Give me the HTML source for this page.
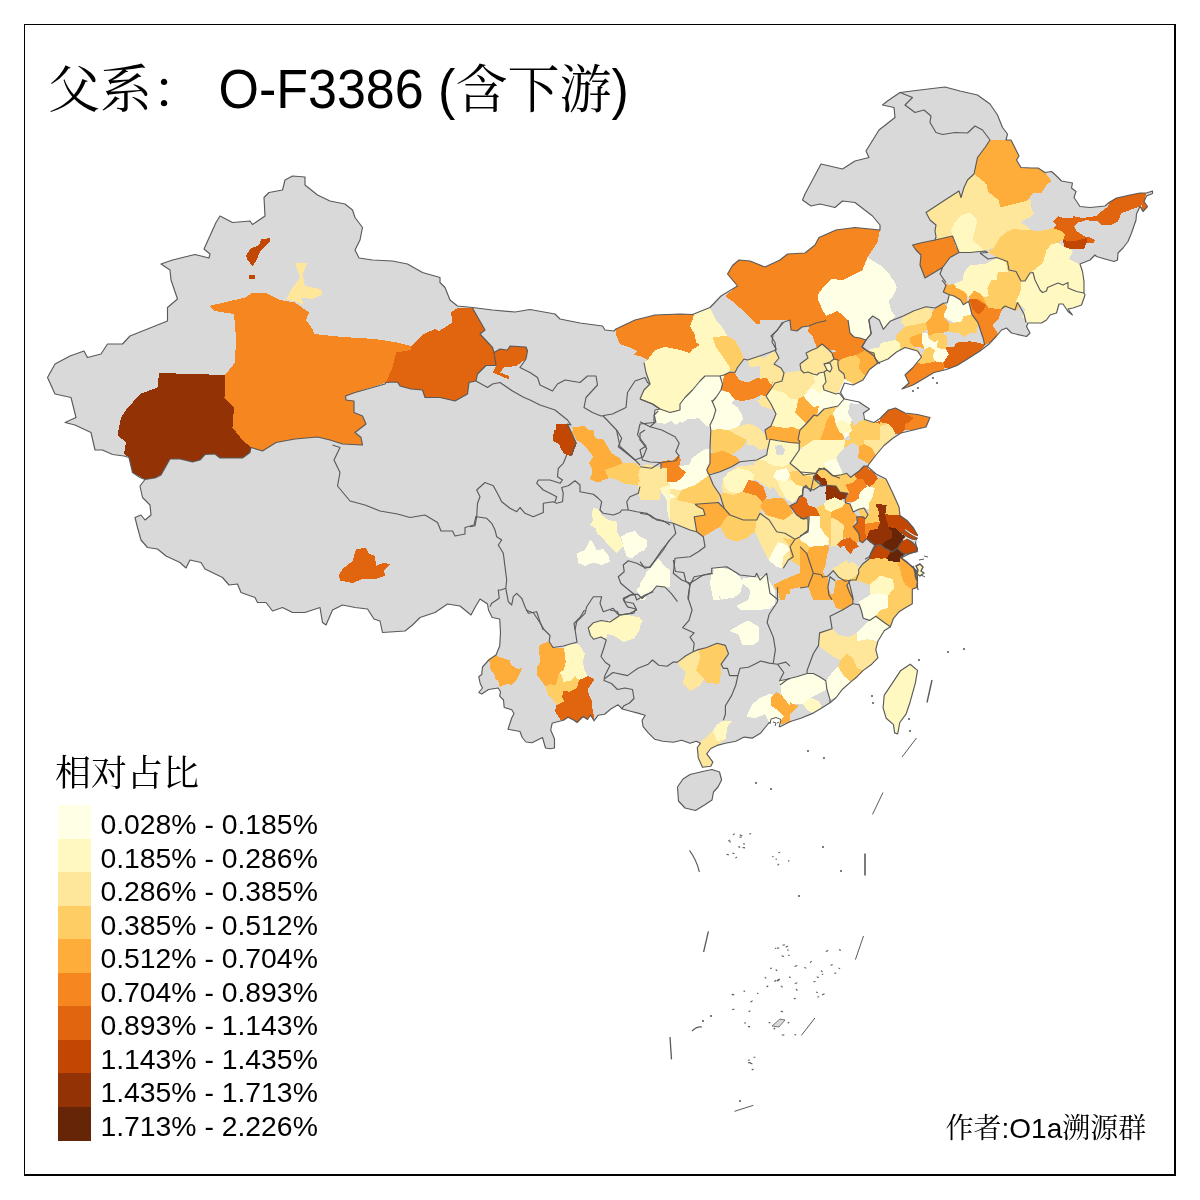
<!DOCTYPE html><html lang="zh"><head><meta charset="utf-8"><title>父系 O-F3386</title><style>
html,body{margin:0;padding:0;background:#fff}
#wrap{position:relative;width:1200px;height:1200px;overflow:hidden;background:#fff;font-family:"Liberation Sans","Noto Serif CJK SC",serif;color:#000}
#frame{position:absolute;left:24px;top:24px;width:1152px;height:1152px;border:solid #000;border-width:1px 2px 2px 1px;box-sizing:border-box}
.t{position:absolute;white-space:nowrap;line-height:1}
.cj{font-family:"Liberation Serif","Noto Serif CJK SC",serif;font-weight:400}
#title{left:48px;top:64px;font-size:52px}.la{display:inline-block;transform:scaleY(1.05);transform-origin:0 80%}
#lt{left:55px;top:756px;font-size:36px}
.sw{position:absolute;left:58px;width:33px;height:33.7px}
.lb{left:100.4px;font-size:28.35px}
#au{left:945.5px;top:1115px;font-size:28px}
</style></head><body><div id="wrap">
<svg width="1200" height="1200" viewBox="0 0 1200 1200" style="position:absolute;left:0;top:0">
<g stroke-linejoin="round">
<polygon points="95,450 91,432.5 75,425 65,422.5 76,417.5 71,397.5 55,394 47.5,377.5 55,364 70,356 84,351 87.5,357.5 101,354 107.5,344 122.5,344 130,336 155,326 167.5,321 167.5,307.5 177.5,299 171,280 170,270 161,264 172.5,260 195,254.5 209,258 210,254 204,249 216,222.5 220,216 232.5,222.5 250,221 252.5,224.5 265,216 264,197.5 269,192.5 282.5,190 285,180 292.5,176 305,177 305,185 317.5,195 330,201 345,204 352.5,210 355,217.5 362.5,227.5 360,240 355,250 359,258 372.5,260 392.5,261 407.5,264 422.5,272.5 440,277.5 440,282.5 445,287.5 450,300 457.5,306 472.5,307.5 492.5,310 515,312 530,309.5 555,314 560,319 580,323 602.5,326 605,330 614,331 616,329 635,320 655,315 680,314 692.5,314.5 710,307.5 721,296 737.5,286 727.5,274 732.5,265.5 739,260 750,261 765,267 780,260 787.5,254 805,253 815,245 819,237.5 836,230 855,227.5 880,230 880,225 872.5,216 855,202.5 842.5,201 835,207.5 820,204 811,206 802.5,200 805,194 821,164 842.5,169 855,161 869,157.5 866,151 879,130 895,117.5 894,107.5 882.5,105 887.5,101 900,92.5 920,90 945,87 960,91 977.5,95 990,104 997.5,115 1002.5,127.5 1007.5,134 1006,140 1011,140 1015,148 1019,156 1016.5,160 1021,167.5 1031.5,168 1038,168 1045,172.5 1051.5,171.5 1056.5,176 1061.5,181 1072.5,183 1071.5,188 1076,191.5 1074,197.5 1080,206.5 1090,207.5 1105,206 1109,202.5 1116.5,198 1130,195 1140,193 1146.5,193 1152.5,191 1152.5,193.5 1146.5,196 1144,201.5 1147.5,206.5 1143,211.5 1140,206.5 1136.5,214 1136,220 1131.5,233 1128,241.5 1123,248 1118,253 1117.5,260 1114,261.5 1105,259 1096.5,256.5 1095,255 1090,260 1080,264 1082.5,271.5 1084,281.5 1084,293 1085,295 1081.5,305 1073,308 1068,309 1072.5,315 1068,311.5 1063,304 1059,304 1056.5,313 1050,315 1046.5,320 1041.5,323 1028,323 1026.5,326.5 1030,333 1026.5,336.5 1011.5,333 1006.5,328 1001.5,330 996.5,336 988.5,344.5 980,351 967.5,359 957,365.5 946.5,369.5 934,372.5 921.5,380 913,385 902,389 909,383 905,375 913,367.5 921.5,357 917.5,351 905,347.5 896.5,352 888,359 878,363 869.5,369.5 863,380 853,385 844.5,383 840.5,392.5 844.5,399 859,402 869.5,409 863.5,413 864.5,419.5 874,422.5 880,418.5 888.5,410 895.5,408 905,413 917.5,414.5 930,417.5 926,427 913.5,430 901,433 892.5,438.5 884,445.5 876,455 869.5,463.5 867.5,466.5 876,474 886,479 892.5,492.5 899,507 900,515.5 907,520.5 913.5,528 917.5,535 915.5,542.5 917.5,551 909,554 901,558 905,561 913.5,567.5 917.5,574 916.5,580 913.3,566.2 917.5,576.7 917.5,587.1 912.3,589.2 912.3,603.8 905,607.9 898.8,612.1 893.5,618.3 890.4,626.7 884.2,630.8 877.9,641.2 875.8,649.6 877.9,657.9 871.7,664.2 863.3,670.4 857.1,676.7 850.8,681.9 842.5,689.2 836.2,697.5 830,702.7 821.7,707.9 813.3,713.1 800.8,718.3 790.4,721.5 780,726.7 779.6,726.7 769.2,722.5 760.8,732.9 752.5,738.1 744.2,737.1 735.8,741.2 725.4,743.3 717.1,745.4 710.8,748.5 706.7,753.8 712.9,762.1 710.8,766.2 702.5,767.3 698.3,757.9 697.3,747.5 700.4,743.3 696.2,741.2 690,743.3 681.7,740.2 673.3,742.3 662.9,741.2 654.6,739.2 648.3,732.9 643.1,726.7 642.1,720.4 645.2,715.2 637.9,713.1 629.6,711 622.3,709 618.1,704.8 610.8,709 604.6,714.2 598.3,715.2 594.2,720.4 594.2,721 590.5,715 587.5,719.5 583,716.5 577,722.5 574,720.2 568,717.2 563.5,720.2 557.5,721.7 552.2,723.2 550.7,730 554.5,739 554.5,748 550,748.7 545.5,748 542.5,737.5 539.5,739 532,742.7 526,742 522.2,737.5 520,731.5 508,729.2 511.7,718 514,713.5 511.7,709.7 504.2,707.5 503.5,700 499.7,696.2 500.5,691.7 498.2,688 488.5,689.5 481.7,694 478.7,692.5 482.5,688 480.2,683.5 478.7,676.7 481.7,674.5 482.5,667 489.2,659.5 496,655 499.7,646 500.5,632.5 499.7,619 492.2,617.5 488.5,610 487.5,604 480,599 475,607.5 471,615 460,606 447.5,604 435,612.5 420,617.5 412.5,625 405,631 382.5,632.5 380,621 374,619 367.5,609 355,607.5 342.5,605 332.5,610 326,625 322.5,622.5 320,607.5 305,612.5 292.5,612.5 282.5,607.5 272.5,611 266,602.5 257.5,602.5 255,597.5 241,592.5 237.5,584 229,585 222.5,577.5 205,569 201,562.5 190,560 186,568 180,562.5 166,556 157.5,549 147.5,547.5 141,540 137.5,527.5 135,517.5 141,515 145,520 151,515 150,505 142.5,497.5 140,486 145,479.5 140,477.5 132.5,472.5 129,457.5 124,456 112.5,454.5 102.5,450" fill="#D9D9D9" stroke="none"/>
<polygon points="677.5,787 683,779 690,774.5 702.5,771.5 712,769.5 719.5,772 721.6,780 718,787 713.5,792 712,800 704.5,805 695.5,810.5 685,808 678.5,801" fill="#D9D9D9" stroke="#5a5a5a" stroke-width="1.15"/>
<defs><clipPath id="cn"><polygon points="95,450 91,432.5 75,425 65,422.5 76,417.5 71,397.5 55,394 47.5,377.5 55,364 70,356 84,351 87.5,357.5 101,354 107.5,344 122.5,344 130,336 155,326 167.5,321 167.5,307.5 177.5,299 171,280 170,270 161,264 172.5,260 195,254.5 209,258 210,254 204,249 216,222.5 220,216 232.5,222.5 250,221 252.5,224.5 265,216 264,197.5 269,192.5 282.5,190 285,180 292.5,176 305,177 305,185 317.5,195 330,201 345,204 352.5,210 355,217.5 362.5,227.5 360,240 355,250 359,258 372.5,260 392.5,261 407.5,264 422.5,272.5 440,277.5 440,282.5 445,287.5 450,300 457.5,306 472.5,307.5 492.5,310 515,312 530,309.5 555,314 560,319 580,323 602.5,326 605,330 614,331 616,329 635,320 655,315 680,314 692.5,314.5 710,307.5 721,296 737.5,286 727.5,274 732.5,265.5 739,260 750,261 765,267 780,260 787.5,254 805,253 815,245 819,237.5 836,230 855,227.5 880,230 880,225 872.5,216 855,202.5 842.5,201 835,207.5 820,204 811,206 802.5,200 805,194 821,164 842.5,169 855,161 869,157.5 866,151 879,130 895,117.5 894,107.5 882.5,105 887.5,101 900,92.5 920,90 945,87 960,91 977.5,95 990,104 997.5,115 1002.5,127.5 1007.5,134 1006,140 1011,140 1015,148 1019,156 1016.5,160 1021,167.5 1031.5,168 1038,168 1045,172.5 1051.5,171.5 1056.5,176 1061.5,181 1072.5,183 1071.5,188 1076,191.5 1074,197.5 1080,206.5 1090,207.5 1105,206 1109,202.5 1116.5,198 1130,195 1140,193 1146.5,193 1152.5,191 1152.5,193.5 1146.5,196 1144,201.5 1147.5,206.5 1143,211.5 1140,206.5 1136.5,214 1136,220 1131.5,233 1128,241.5 1123,248 1118,253 1117.5,260 1114,261.5 1105,259 1096.5,256.5 1095,255 1090,260 1080,264 1082.5,271.5 1084,281.5 1084,293 1085,295 1081.5,305 1073,308 1068,309 1072.5,315 1068,311.5 1063,304 1059,304 1056.5,313 1050,315 1046.5,320 1041.5,323 1028,323 1026.5,326.5 1030,333 1026.5,336.5 1011.5,333 1006.5,328 1001.5,330 996.5,336 988.5,344.5 980,351 967.5,359 957,365.5 946.5,369.5 934,372.5 921.5,380 913,385 902,389 909,383 905,375 913,367.5 921.5,357 917.5,351 905,347.5 896.5,352 888,359 878,363 869.5,369.5 863,380 853,385 844.5,383 840.5,392.5 844.5,399 859,402 869.5,409 863.5,413 864.5,419.5 874,422.5 880,418.5 888.5,410 895.5,408 905,413 917.5,414.5 930,417.5 926,427 913.5,430 901,433 892.5,438.5 884,445.5 876,455 869.5,463.5 867.5,466.5 876,474 886,479 892.5,492.5 899,507 900,515.5 907,520.5 913.5,528 917.5,535 915.5,542.5 917.5,551 909,554 901,558 905,561 913.5,567.5 917.5,574 916.5,580 913.3,566.2 917.5,576.7 917.5,587.1 912.3,589.2 912.3,603.8 905,607.9 898.8,612.1 893.5,618.3 890.4,626.7 884.2,630.8 877.9,641.2 875.8,649.6 877.9,657.9 871.7,664.2 863.3,670.4 857.1,676.7 850.8,681.9 842.5,689.2 836.2,697.5 830,702.7 821.7,707.9 813.3,713.1 800.8,718.3 790.4,721.5 780,726.7 779.6,726.7 769.2,722.5 760.8,732.9 752.5,738.1 744.2,737.1 735.8,741.2 725.4,743.3 717.1,745.4 710.8,748.5 706.7,753.8 712.9,762.1 710.8,766.2 702.5,767.3 698.3,757.9 697.3,747.5 700.4,743.3 696.2,741.2 690,743.3 681.7,740.2 673.3,742.3 662.9,741.2 654.6,739.2 648.3,732.9 643.1,726.7 642.1,720.4 645.2,715.2 637.9,713.1 629.6,711 622.3,709 618.1,704.8 610.8,709 604.6,714.2 598.3,715.2 594.2,720.4 594.2,721 590.5,715 587.5,719.5 583,716.5 577,722.5 574,720.2 568,717.2 563.5,720.2 557.5,721.7 552.2,723.2 550.7,730 554.5,739 554.5,748 550,748.7 545.5,748 542.5,737.5 539.5,739 532,742.7 526,742 522.2,737.5 520,731.5 508,729.2 511.7,718 514,713.5 511.7,709.7 504.2,707.5 503.5,700 499.7,696.2 500.5,691.7 498.2,688 488.5,689.5 481.7,694 478.7,692.5 482.5,688 480.2,683.5 478.7,676.7 481.7,674.5 482.5,667 489.2,659.5 496,655 499.7,646 500.5,632.5 499.7,619 492.2,617.5 488.5,610 487.5,604 480,599 475,607.5 471,615 460,606 447.5,604 435,612.5 420,617.5 412.5,625 405,631 382.5,632.5 380,621 374,619 367.5,609 355,607.5 342.5,605 332.5,610 326,625 322.5,622.5 320,607.5 305,612.5 292.5,612.5 282.5,607.5 272.5,611 266,602.5 257.5,602.5 255,597.5 241,592.5 237.5,584 229,585 222.5,577.5 205,569 201,562.5 190,560 186,568 180,562.5 166,556 157.5,549 147.5,547.5 141,540 137.5,527.5 135,517.5 141,515 145,520 151,515 150,505 142.5,497.5 140,486 145,479.5 140,477.5 132.5,472.5 129,457.5 124,456 112.5,454.5 102.5,450"/><polygon points="910.2,664.2 917.5,670.4 915.4,682.9 910.2,701.7 906,714.2 899.8,722.5 897.7,734 894.6,732.9 893.5,724.6 886.2,718.3 883.1,707.9 884.2,695.4 892.5,682.9 900.8,670.4"/></clipPath></defs>
<g stroke="none" shape-rendering="crispEdges" clip-path="url(#cn)">
<polygon points="159,373 225,375 224.5,397.5 234,407.5 232.5,427.5 242.5,440 251,447.5 250,452.5 242.5,458 220,458 215,454 205,454.5 200,460 192.5,462 180,459 170,459 161,475 155,478 145,479.5 132.5,472.5 129,457.5 124,454 126,442.5 117.5,435 121,417.5 126,410 140,394 157.5,387.5" fill="#933204"/>
<polygon points="209,306 245,297.5 252.5,292.5 265,292.5 280,300 295,302.5 309,312.5 306,320 312.5,329 314,334 342.5,337 375,339 397.5,342.5 411,346 411,350 396,352.5 392.5,367.5 386,382.5 355,392.5 345.5,396 346,400 354,401 354,412.5 362.5,416 366,424 355,432.5 361,437.5 362.5,445 342.5,444 330,440 317.5,437 295,439 276,442.5 262.5,451 251,447.5 242.5,440 232.5,427.5 234,407.5 224.5,397.5 225,375 235,362.5 236,337.5 234,314 215,311" fill="#F68720"/>
<polygon points="246,256 250,249 259,245 261,239.5 270,238 270,241 261,250 256,261 252.5,266 247.5,260" fill="#C14702"/>
<polygon points="249,275 255,275 255,279 249,279" fill="#C14702"/>
<polygon points="295,262.5 307.5,262.5 302.5,275 305,286 321,289 322.5,294 312.5,299 301,297.5 304,305 295,301 286,300 292.5,287.5 300,277.5" fill="#FEE79B"/>
<polygon points="457.5,308 472.5,308 485,330 480,334 492.5,347.5 494,352.5 500,349 507.5,350 510,346 526,347 527.5,351 526,359 516,366 504,367.5 500,372.5 509,376 509,379.5 492.5,372.5 496,365.5 486,365.5 477.5,374 476,381 469,382.5 467.5,394 455,401 440,397.5 425,397.5 422.5,390 411,389 400,386 397.5,382 386,382.5 392.5,367.5 396,352.5 411,350 411,346 424,334 435,329 439,331 452.5,322.5 451,312.5" fill="#E1640E"/>
<polygon points="339,575 342.5,569 352.5,561 356,549.5 366,547.5 369,554 375,556 376,566 384,562.5 389.5,564.5 384,570 385,576 375,579 362.5,579 352.5,583 340,580.5" fill="#E1640E"/>
<polygon points="556,424 567.5,424 572.5,435 576,442.5 571,456 564,454 559,444 552.5,441 556,435" fill="#C14702"/>
<polygon points="572.5,427.5 584,426 592.5,434 596,440 602.5,439 607.5,446 612.5,455 620,460 622.5,466 606,470 605,477.5 600,482.5 591,480 592.5,470 589,462.5 595,457.5 590,450 584,444 577.5,441 574,435" fill="#FEAC3A"/>
<polygon points="606,470 622.5,466 632.5,462.5 640,466 640,475 637.5,485 625,484 615,479 605,477.5" fill="#FECE65"/>
<polygon points="640,466 660,469 665,475 666,482.5 660,490 660,500 640,500 637.5,485" fill="#FEE79B"/>
<polygon points="661,462.5 672.5,461 677.5,456 680,460 677.5,467.5 686,472.5 680,480 672.5,482.5 666,481 665,474 661,469" fill="#F68720"/>
<polygon points="616,329.5 635,320 655,315 680,314 694,314.5 692.5,320 690,326 695,335 696,342.5 700,345 692.5,349.5 690,353 680,350 665,347 655,350 647.5,360 640,356 634,355 637.5,351 630,347.5 620,344 616,335" fill="#F68720"/>
<polygon points="727.5,274 732.5,265.5 739,260 750,261 765,267 780,260 787.5,254 805,253 815,245 819,237.5 836,230 855,227.5 880,230 877.5,242.5 867.5,257.5 862.5,270 842.5,280 831,279 827.5,287.5 817.5,297.5 822.5,310 826,316 810,326 796,331 790,322.5 785,320 777.5,322.5 775,320 762.5,324.5 756,324 745,312.5 734,302.5 725,296 737.5,286" fill="#F68720"/>
<polygon points="826,316 837.5,311 844,316 852.5,326 855,337.5 865,340 862.5,349 875,355 877.5,362.5 870,370 862.5,380 853,385 844.5,383 842,372 836,361 833,357 834,351 824,344.5 814,339 810,330 810,326" fill="#F68720"/>
<polygon points="817.5,297.5 827.5,287.5 831,279 842.5,280 862.5,270 867.5,257.5 880,265 890,275 897.5,287.5 890,300 894,315 880,320 871,317.5 869,327.5 865,340 855,337.5 852.5,326 844,316 837.5,311 826,316 822.5,310" fill="#FFFFE5"/>
<polygon points="830,280 825,285 817.5,295 817.5,300 822.5,304 825,314 826,316 822.5,310 817.5,297.5 827.5,287.5 831,279" fill="#FFFFE5"/>
<polygon points="694,314.5 710,308 716,320 722.5,327.5 727.5,336 735,340 741,351 744,359 737.5,367.5 735,372.5 730,372 724,375 720,376 705,376 700,381 692.5,390 685,397.5 680,404 680,410 670,412.5 660,409 652.5,404 640,399 644,390 650,384 646,372.5 644,362.5 647.5,360 655,350 665,347 680,350 690,353 692.5,349.5 700,345 696,342.5 695,335 690,326 692.5,320" fill="#FFF8C1"/>
<polygon points="712.5,337 727.5,336 735,340 741,351 744,359 737.5,367.5 735,372.5 730,371 730,367.5 722.5,356 716,347.5" fill="#FECE65"/>
<polygon points="724,375 730,372 735,373 739,380 747.5,382.5 757.5,378 770,376 772.5,380 770,386 762.5,394 752.5,399 742.5,401 735,400 729,392.5 721,390 722.5,384" fill="#F68720"/>
<polygon points="720,376 724,375 722.5,384 721,390 716,397.5 712.5,407.5 715,417.5 710,427.5 705,425 702.5,420 692.5,416 682.5,422.5 672.5,420 665,424 657.5,422.5 654,417.5 655,410 660,409 670,412.5 680,410 680,404 685,397.5 692.5,390 700,381 705,376" fill="#FFFFE5"/>
<polygon points="716,397.5 721,390.5 729,392.5 735,400 730,402.5 737.5,407.5 742.5,415 737.5,422.5 730,427.5 720,429 710,427.5 715,417.5 712.5,407.5" fill="#FFFFE5"/>
<polygon points="766,400 762.5,394 770,386 780,384 782.5,375 790,370 800,370 805,375 812.5,376 816,385 810,390 805,397.5 797.5,400 799,412.5 805,420 795,427.5 780,426 771,421 776,412.5 772.5,407.5" fill="#FEE79B"/>
<polygon points="799,399 805,398 812.5,407.5 820,405 815,415 807.5,422.5 799,412.5" fill="#FEAC3A"/>
<polygon points="747.5,360 762.5,355 776,350 780,360 774,364 782.5,370 782.5,375 780,384 770,386 772.5,380 770,376 764,372.5 762.5,365 750,367.5" fill="#FEE79B"/>
<polygon points="805,351 815,346 820,344 830,345 836,361 840.5,361 840.5,369.5 844.5,375 844.5,383 840.5,392.5 830,391.5 824,386 811,387 807,394.5 796.5,399 780,384 782.5,375 782.5,370 792.5,369 800,362.5" fill="#FEE79B"/>
<polygon points="912.5,245 922.5,242.5 935,240 952.5,236 955,245 959,252.5 950,257.5 942.5,267.5 930,275 925,278 920,265 921,255 916,250" fill="#F68720"/>
<polygon points="926,212.5 945,200 959,191 961,197.5 967.5,180 974,174 985,182.5 987.5,192.5 999,200 1000,207.5 1020,202.5 1030,200 1032.5,215 1020,222.5 1027.5,230 1010,229 1000,237.5 994,247.5 985,251 972.5,240 977.5,220 970,212.5 960,216 955,222.5 951,230 952.5,236 935,240 935,231 936,225 930,220" fill="#FEE79B"/>
<polygon points="951,230 955,222.5 960,216 970,212.5 977.5,220 972.5,240 985,251 970,252.5 959,252.5 955,245 952.5,236" fill="#FFF8C1"/>
<polygon points="990,140 1006,140 1011,140 1015,148 1019,156 1016.5,160 1021,167.5 1038,168 1045,172.5 1051.5,181 1046.5,185 1041.5,193 1033,193 1028,200 1021.5,203 1010,205 1000,207.5 999,200 987.5,192.5 985,182.5 974,174 977.5,157.5 985,147.5" fill="#FEAC3A"/>
<polygon points="994,247.5 1000,237.5 1010,229 1027.5,230 1030,230 1038,231 1046.5,230 1053,228 1061.5,231 1065,235 1063,240 1058,243 1051.5,244 1046.5,250 1043,263 1036.5,268 1030,273 1025,281 1021,281 1015,270 1007.5,270 1006,262.5 997.5,257.5 987.5,252.5" fill="#FECE65"/>
<polygon points="980,183 986.5,184 988,191.5 998,200 1000,207.5 1010,205 1021.5,203 1028,200 1031,200 1030,208 1034,213 1030,217.5 1019,221.5 1025,225 1030,230 1016,228 1005,232.5 1000,236.5 1000,237.5 1010,229 1027.5,230 1020,222.5 1032.5,215 1030,200 1020,202.5 1000,207.5" fill="#FEE79B"/>
<polygon points="1053,221.5 1058,216 1063,218 1072.5,218 1072.5,216 1083,218 1096.5,216 1101.5,211.5 1108,206.5 1109,202.5 1116.5,198 1130,195 1140,193 1146.5,193 1144,201.5 1142.5,204 1140,206.5 1130,210 1121.5,213 1118,221.5 1111.5,225 1101.5,225 1098,221 1088,221.5 1089,219.5 1078,222.5 1074,226 1076.5,231 1085,236.5 1090,237.5 1095,240 1094,242.5 1086.5,243 1084,249 1070,249 1064,246.5 1063,240 1065,235 1061.5,231 1053,228 1056.5,225" fill="#E1640E"/>
<polygon points="1063,240 1073,241.5 1086.5,238 1086.5,243 1084,249 1070,249 1064,246.5" fill="#C14702"/>
<polygon points="1142.5,204 1144,201.5 1147.5,206.5 1143,211.5 1141,208" fill="#E1640E"/>
<polygon points="1046.5,250 1051.5,244 1058,243 1064,246.5 1070,249 1073,251.5 1069,259 1079,264 1080,264 1082.5,271.5 1084,281.5 1084,293 1085,295 1081.5,305 1073,308 1068,309 1072.5,315 1068,311.5 1063,304 1059,304 1056.5,313 1050,315 1046.5,320 1041.5,323 1028,323 1022.5,316.5 1025,310 1021,305 1016,301.5 1020,293 1021.5,286.5 1021,281 1025,281 1030,273 1036.5,268 1043,263" fill="#FFF8C1"/>
<polygon points="986.5,285 996.5,280 998,271.5 1007.5,271.5 1009,270 1016,271.5 1021,281 1021.5,286.5 1020,293 1016,301.5 1021,305 1016,311.5 1011,308 1001.5,308 996.5,305 988,298 986.5,291.5" fill="#FECE65"/>
<polygon points="964,272.5 970,265 985,264 992.5,260 997.5,257.5 1006,262.5 1007.5,270 1007.5,271.5 998,271.5 996.5,280 986.5,285 986.5,291.5 987.5,297.5 977.5,290 966,287.5 955,287.5 962.5,280" fill="#FFF8C1"/>
<polygon points="944,282.5 955,287.5 966,287.5 967.5,300 965,305 959,297.5 950,292.5 942.5,292.5 946,287" fill="#FEAC3A"/>
<polygon points="950,295 959,297.5 965,305 970,306 972.5,314 965,317.5 955,321 947.5,322.5 944,315 947.5,305" fill="#FFFFE5"/>
<polygon points="969,300 977.5,290 987.5,297.5 995,305 1001.5,309 998,315 996.5,321.5 992.5,325 996.5,331.5 997.5,332.5 990,342.5 985,345 982.5,335 977.5,325 977.5,317.5 972.5,310" fill="#F68720"/>
<polygon points="969,300 977.5,290 985,296 985,305 980,310 975,312 972.5,310" fill="#E1640E"/>
<polygon points="946,349 955,344 970,341 980,342.5 985,346 977.5,352.5 965,360 955,365 945,365 950,355" fill="#E1640E"/>
<polygon points="945,365 942.5,370 930,375 921.5,380 913,385 902,389 909,383 905,375 913,367.5 920,360 922.5,355 930,357.5 940,362.5" fill="#F68720"/>
<polygon points="922.5,335 930,332.5 932.5,340 940,342.5 946,349 950,355 945,362.5 940,362.5 935,357.5 932.5,350 925,345" fill="#FFFFE5"/>
<polygon points="927.5,320 935,310 944,304 944,315 947.5,322.5 955,321 955,332.5 947.5,332.5 945,340 940,342.5 932.5,340 930,332.5 922.5,335 921.5,345 917.5,351 921.5,357 924,352.5 920,347.5" fill="#FEAC3A"/>
<polygon points="947.5,322.5 955,321 972.5,314 977.5,317.5 977.5,325 972.5,330 955,332.5 947.5,332.5" fill="#FECE65"/>
<polygon points="902.5,317.5 920,307.5 935,310 927.5,320 922.5,330 910,332.5 902.5,330 897.5,337.5" fill="#FEE79B"/>
<polygon points="897.5,337.5 902.5,330 910,332.5 922.5,330 922.5,335 921.5,345 917.5,351 905,347.5 896.5,352" fill="#FECE65"/>
<polygon points="875,355 880,345 890,342.5 897.5,337.5 896.5,352 888,359 878,363 877.5,362.5" fill="#FFF8C1"/>
<polygon points="877.9,421.7 888.3,410.2 895.6,408.1 905,413.3 913.3,417.5 909.2,422.7 905,423.8 905,430 900.8,433.1 895.6,434.2 892.5,427.9 888.3,423.8" fill="#E1640E"/>
<polygon points="905,413.3 917.5,414.4 930,417.5 925.8,426.9 913.3,430 905,430 905,423.8 909.2,422.7 913.3,417.5" fill="#F68720"/>
<polygon points="873.8,427.9 888.3,423.8 892.5,427.9 895.6,434.2 892.5,438.3 884.2,445.6 877.9,446.7 873.8,438.3" fill="#FEE79B"/>
<polygon points="861.2,419.6 864.4,419.6 873.8,422.7 877.9,421.7 888.3,423.8 873.8,427.9 873.8,438.3 877.9,446.7 873.8,448.8 863.3,445.6 857.1,442.5 850.8,434.2 855,425.8" fill="#FECE65"/>
<polygon points="863.3,445.6 873.8,448.8 877.9,446.7 884.2,445.6 875.8,455 869.6,463.3 863.3,459.2 858.1,455 860.2,448.8" fill="#FEAC3A"/>
<polygon points="836.2,409.2 844.6,400.8 848.8,407.1 848.8,415.4 848.8,423.8 855,425.8 850.8,434.2 844.6,438.3 840.4,430 836.2,421.7" fill="#FFFFE5"/>
<polygon points="821.7,423.8 832.1,413.3 836.2,421.7 840.4,430 844.6,438.3 840.4,442.5 834.2,436.2 823.8,438.3 817.5,434.2" fill="#FEAC3A"/>
<polygon points="811.2,417.5 824.8,408.1 842.5,400.8 844.6,400.8 836.2,409.2 832.1,413.3 821.7,423.8 817.5,434.2 811.2,438.3 799.8,443.5 798.8,436.2 807.1,427.9" fill="#FECE65"/>
<polygon points="799.8,443.5 811.2,438.3 817.5,434.2 823.8,438.3 834.2,436.2 840.4,442.5 850.8,443.5 840.4,450.8 836.2,459.2 842.5,467.5 846.7,473.8 838.3,475.8 832.1,471.7 823.8,467.5 817.5,469.6 811.2,474.8 800.8,473.8 794.6,467.5 789.4,464.4 792.5,457.1 802.9,449.8" fill="#FFF8C1"/>
<polygon points="840.4,361.2 852.9,357.1 859.2,352.9 865.4,348.8 873.8,355 877.9,363.3 869.6,369.6 863.3,380 852.9,385.2 844.6,383.1 844.6,374.8 840.4,369.6" fill="#FEAC3A"/>
<polygon points="869.6,350.8 882.1,342.5 892.5,340.4 898.8,344.6 896.7,351.9 888.3,359.2 877.9,363.3 873.8,355" fill="#FFF8C1"/>
<polygon points="806,352.9 814.4,349.8 821.7,344.6 834.2,350.8 833.1,357.1 836.2,361.2 830,363.3 823.8,366.5 819.6,373.8 809.2,371.7 800.8,367.5 802.9,361.2" fill="#FEE79B"/>
<polygon points="823.8,366.5 830,363.3 836.2,361.2 840.4,369.6 844.6,374.8 844.6,383.1 840.4,392.5 830,391.5 823.8,386.2 824.8,377.9 829,371.7" fill="#FEE79B"/>
<polygon points="807.1,394.6 811.2,387.3 823.8,386.2 830,391.5 840.4,392.5 844.6,398.8 824.8,408.1 811.2,417.5 805,409.2 811.2,402.9" fill="#FFFFE5"/>
<polygon points="780,380 784.2,371.7 800.8,367.5 809.2,371.7 819.6,373.8 824.8,377.9 823.8,386.2 811.2,387.3 807.1,394.6 796.7,398.8 780,392.5" fill="#FEE79B"/>
<polygon points="797.7,398.8 807.1,394.6 811.2,402.9 818.5,405 809.2,413.3 804,419.6 795.6,409.2" fill="#FEAC3A"/>
<polygon points="804,419.6 809.2,413.3 818.5,405 824.8,408.1 811.2,417.5 807.1,427.9 798.8,436.2" fill="#FECE65"/>
<polygon points="780,392.5 796.7,398.8 795.6,409.2 804,419.6 798.8,436.2 788.3,438.3 780,434.2" fill="#FEE79B"/>
<polygon points="780,427.9 790.4,425.8 798.8,436.2 799.8,443.5 792.5,446.7 780,442.5" fill="#FEAC3A"/>
<polygon points="640,466.7 651.7,468.3 661.7,466.7 666.7,473.3 666.7,481.7 661.7,488.3 650,491.7 640,490" fill="#FEE79B"/>
<polygon points="660.8,462.5 675.8,460.8 679.2,455.8 680.8,460 679.2,466.7 685.8,472.5 681.7,478.3 675,482.5 666.7,481.7 666.7,473.3 661.7,466.7" fill="#F68720"/>
<polygon points="679.2,466.7 690,464.2 691.7,458.3 703.3,450 710,448.3 710,463.3 706.7,470 709.2,475 703.3,479.2 695,485 681.7,490 675.8,496.7 666.7,500 661.7,491.7 666.7,481.7 675,482.5 681.7,478.3 685.8,472.5" fill="#FFFFE5"/>
<polygon points="654.2,415 658.3,410.8 668.3,412.5 680.8,411.7 684.2,405 683.3,400 711.7,400 715.8,410 713.3,418.3 710,425 703.3,423.3 698.3,418.3 688.3,419.2 681.7,420.8 675.8,425 670.8,420 661.7,423.3 655.8,421.7" fill="#FFFFE5"/>
<polygon points="711.7,400 733.3,400 730,406.7 738.3,411.7 743.3,418.3 738.3,426.7 728.3,430 720,429.2 710.8,430 710,425 713.3,418.3 715.8,410" fill="#FFFFE5"/>
<polygon points="710.8,430 720,429.2 728.3,430 738.3,435.8 746.7,440 743.3,446.7 738.3,450 731.7,455 723.3,450.8 713.3,453.3 710.8,448.3" fill="#FECE65"/>
<polygon points="738.3,426.7 748.3,423.3 756.7,426.7 763.3,432.5 769.2,440 768.3,448.3 760,450 753.3,445 746.7,445 746.7,440 738.3,435.8 728.3,430" fill="#FEE79B"/>
<polygon points="710,453.3 713.3,453.3 723.3,450.8 731.7,455 736.7,456.7 740,461.7 731.7,466.7 720,471.7 707.5,474.2 706.7,468.3 710,463.3" fill="#FEAC3A"/>
<polygon points="756.7,400 770,400 776.7,411.7 773.3,412.5 763.3,408.3" fill="#FEE79B"/>
<polygon points="776.7,411.7 790,410 798.3,415 804.2,423.3 800,428.3 790,425.8 781.7,428.3 771.7,426.7 773.3,418.3" fill="#FEE79B"/>
<polygon points="766.7,432.5 771.7,426.7 781.7,428.3 790,425.8 798.3,430 800,441.7 790,441.7 778.3,440 770,439.2" fill="#FEAC3A"/>
<polygon points="796.7,400 820,400 816.7,410 813.3,416.7 806.7,421.7 804.2,423.3 798.3,415 800,406.7" fill="#FEAC3A"/>
<polygon points="798.3,433.3 806.7,421.7 813.3,416.7 823.3,408.3 840,406.7 840,416.7 835,425 823.3,435 813.3,440 803.3,446.7 799.2,448.3 800,441.7" fill="#FECE65"/>
<polygon points="790,463.3 799.2,450 813.3,441.7 823.3,435 840,438.3 840,463.3 831.7,468.3 820,468.3 816.7,473.3 803.3,475 798.3,470" fill="#FFF8C1"/>
<polygon points="767.5,450 770,440 778.3,440.8 790,442.5 799.2,443.3 799.2,450 790,463.3 783.3,466.7 773.3,465.8 763.3,460 756.7,460 766.7,455" fill="#FFF8C1"/>
<polygon points="775,445.8 781.7,445 785,450 783.3,455 776.7,455" fill="#D9D9D9"/>
<polygon points="723.3,478.3 736.7,466.7 753.3,465 756.7,460 763.3,460 773.3,465.8 783.3,466.7 790,463.3 798.3,470 803.3,475 816.7,473.3 820,483.3 813.3,490 805,485 800,495 790,493.3 783.3,498.3 773.3,491.7 761.7,483.3 756.7,480 748.3,480 741.7,491.7 733.3,495 723.3,492.5 721.7,486.7" fill="#FEE79B"/>
<polygon points="776.7,470 786.7,468.3 790,475 786.7,481.7 778.3,481.7 773.3,476.7" fill="#FFFFE5"/>
<polygon points="709.2,475 720,471.7 731.7,466.7 736.7,466.7 723.3,478.3 721.7,486.7 720,495 713.3,485" fill="#D9D9D9"/>
<polygon points="742.5,491.7 748.3,480 756.7,481.7 763.3,486.7 766.7,496.7 763.3,503.3 756.7,495.8 748.3,493.3" fill="#F68720"/>
<polygon points="766.7,491.7 773.3,486.7 778.3,493.3 773.3,498.3 766.7,496.7" fill="#D9D9D9"/>
<polygon points="720,495 723.3,492.5 733.3,495 741.7,491.7 748.3,493.3 756.7,495.8 763.3,503.3 760,513.3 756.7,520 743.3,520 730,515 724.2,508.3" fill="#FECE65"/>
<polygon points="760,506.7 763.3,500 773.3,498.3 783.3,498.3 790,506.7 793.3,513.3 783.3,520 771.7,516.7 766.7,515" fill="#FEAC3A"/>
<polygon points="769.2,520 771.7,516.7 783.3,520 793.3,513.3 796.7,515 803.3,519.2 808.3,516.7 808.3,530 800,536.7 795,539.2 785,533.3 776.7,531.7" fill="#FEE79B"/>
<polygon points="790,505.8 796.7,502.5 799.2,496.7 806.7,498.3 807.5,503.3 813.3,508.3 819.2,515 816.7,518.3 808.3,515 803.3,519.2 796.7,515" fill="#E1640E"/>
<polygon points="803.3,486.7 813.3,490 820,485.8 826.7,488.3 828.3,498.3 821.7,505 816.7,508.3 813.3,508.3 807.5,503.3 806.7,498.3 802.5,495" fill="#D9D9D9"/>
<polygon points="800,536.7 808.3,530 809.2,516.7 816.7,518.3 823.3,531.7 830,538.3 828.3,545 816.7,545 810,547.5" fill="#FFFFE5"/>
<polygon points="816.7,508.3 821.7,505 828.3,500 840,500 840,536.7 830,538.3 823.3,531.7 819.2,515" fill="#FEE79B"/>
<polygon points="720,526.7 726.7,516.7 730,515 743.3,520 756.7,520 755,531.7 746.7,538.3 736.7,541.7 726.7,538.3" fill="#FECE65"/>
<polygon points="695,504.2 718.3,502.5 724.2,508.3 730,515 726.7,516.7 720,526.7 711.7,531.7 703.3,536.7 696.7,531.7 694.2,516.7 705,515 703.3,509.2 698.3,506.7" fill="#FEAC3A"/>
<polygon points="661.7,488.3 681.7,490 695,485 703.3,479.2 709.2,475 713.3,485 720,495 718.3,502.5 695,504.2 698.3,506.7 703.3,509.2 705,515 694.2,516.7 696.7,531.7 690,530 673.3,523.3 668.3,515 666.7,500 675.8,496.7" fill="#FEE79B"/>
<polygon points="681.7,490 695,485 703.3,479.2 709.2,475 713.3,485 720,495 718.3,502.5 695,504.2 676.7,500" fill="#FECE65"/>
<polygon points="755,531.7 756.7,520 760,513.3 766.7,515 771.7,516.7 769.2,520 776.7,531.7 785,533.3 795,539.2 790,546.7 793.3,556.7 788.3,560 783.3,568.3 776.7,566.7 768.3,560 763.3,550" fill="#FEE79B"/>
<polygon points="768.3,560 773.3,550 778.3,541.7 786.7,545 790,550 783.3,556.7 781.7,568.3 776.7,566.7" fill="#FFFFE5"/>
<polygon points="783.3,538.3 795,539.2 800,536.7 810,547.5 806.7,553.3 811.7,573.3 806.7,573.3 798.3,565 790,560 790,546.7" fill="#FECE65"/>
<polygon points="806.7,553.3 810,547.5 816.7,545 828.3,545 831.7,555 825,560 823.3,568.3 816.7,571.7 811.7,573.3" fill="#FEAC3A"/>
<polygon points="773.3,585 783.3,580 795,575 800,573.3 811.7,573.3 823.3,568.3 825,575 820,580 826.7,583.3 831.7,593.3 840,595 840,600 780,600 778.3,591.7" fill="#FEAC3A"/>
<polygon points="786.7,590 800,585 815,588.3 816.7,600 785,600" fill="#D9D9D9"/>
<polygon points="711.7,573.3 718.3,568.3 726.7,570 726.7,576.7 720,583.3 718.3,591.7 720,600 713.3,600 710,583.3" fill="#FFFFE5"/>
<polygon points="740,581.7 743.3,578.3 755,576.7 760,580 766.7,575 768.3,583.3 771.7,600 756.7,600 753.3,591.7 746.7,586.7" fill="#FFFFE5"/>
<polygon points="640,536.7 646.7,540 645,550 640,551.7" fill="#FFFFE5"/>
<polygon points="646.7,573.3 658.3,563.3 666.7,570 668.3,576.7 658.3,585 650,588.3 645,600 640,600 640,583.3" fill="#FFFFE5"/>
<polygon points="800,452 813.3,444 821.3,440 845.3,440 844,448 836,457.3 840,466.7 842.7,473.3 841.3,474.7 833.3,476 828.7,472 824,468 817.3,470.7 816,473.3 800,472" fill="#FFF8C1"/>
<polygon points="824,462.7 834.7,458.7 840,466.7 842.7,473.3 833.3,476 828.7,472" fill="#FFFFE5"/>
<polygon points="836,457.3 844,448 853.3,442.7 858.7,446.7 858.7,453.3 857.3,457.3 866.7,462.7 864,466 858.7,471.3 854,474.7 850.7,477.3 846.7,473.3 842.7,473.3 840,466.7" fill="#D9D9D9"/>
<polygon points="858.7,446.7 864,444 872,448 874.7,453.3 874.7,460 869.3,465.3 866.7,462.7 857.3,457.3 858.7,453.3" fill="#FEAC3A"/>
<polygon points="845.3,440 858.7,440 864,444 858.7,446.7 853.3,442.7 844,448" fill="#FECE65"/>
<polygon points="864,444 864,440 893.3,440 886.7,446.7 880,453.3 874.7,460 874.7,453.3 872,448" fill="#FEE79B"/>
<polygon points="854,474.7 858.7,471.3 864,466 868,466 868,468.7 874.7,473.3 878,478.7 873.3,484 869.3,486.7 865.3,484 862.7,478.7 857.3,478.7" fill="#E1640E"/>
<polygon points="845.3,484.7 853.3,482.7 857.3,478.7 862.7,478.7 865.3,484 866.7,486.7 860,492 858.7,498.7 853.3,502 845.3,502.7 846.7,497.3 849.3,492" fill="#F68720"/>
<polygon points="869.3,486.7 873.3,484 878,478.7 882.7,478 888,481.3 893.3,493.3 898.7,506.7 900,514.7 893.3,516 885.3,514 886.7,505.3 876,504.7 874.7,509.3 869.3,512 869.3,502.7 872,498.7 874.7,488" fill="#FECE65"/>
<polygon points="858.7,498.7 860,492 866.7,486.7 869.3,486.7 874.7,488 872,498.7 869.3,502.7 869.3,509.3 864,508 858.7,509.3 853.3,512 850,504 853.3,502" fill="#FFFFE5"/>
<polygon points="858.7,509.3 864,508 868,514.7 865.3,518.7 860,516" fill="#FECE65"/>
<polygon points="817.3,470.7 824,468 828.7,472 833.3,476 841.3,474.7 846.7,473.3 850.7,477.3 854,474.7 857.3,478.7 853.3,482.7 845.3,484.7 849.3,492 848,493.3 840,492 836,486 827.3,485.3 826,478.7 822,478 817.3,474" fill="#FECE65"/>
<polygon points="814,476 817.3,474 822,478 826,478.7 827.3,485.3 836,486 840,492 848,493.3 845.3,498.7 840,500 834.7,497.3 826.7,500.7 825.3,493.3 826.7,485.3 822,486 819.3,481.3 814.7,479.3" fill="#933204"/>
<polygon points="824,504 826.7,500.7 834.7,497.3 840,500 845.3,502.7 842.7,506.7 830.7,512 825.3,509.3" fill="#FFF8C1"/>
<polygon points="802.7,489.3 806,485.3 810.7,491.3 820,488 826.7,485.3 825.3,493.3 826.7,500.7 824,504 816,508 808,505.3 806.7,498.7 802.7,496" fill="#D9D9D9"/>
<polygon points="800,496.7 802.7,496 806.7,498.7 808,505.3 816,508 820,516 809.3,516 805.3,518.7 800,518" fill="#E1640E"/>
<polygon points="830.7,512 842.7,506.7 845.3,502.7 850,504 853.3,512 857.3,516 853.3,526.7 858.7,533.3 860,541.3 856,542.7 849.3,537.3 842.7,538.7 844,525.3 837.3,520 830.7,517.3" fill="#FEAC3A"/>
<polygon points="816,508 824,504 825.3,509.3 830.7,512 830.7,517.3 830.7,546.7 824,533.3 820,526.7 820,516" fill="#FECE65"/>
<polygon points="830.7,517.3 837.3,520 844,525.3 842.7,538.7 837.3,545.3 830.7,546.7" fill="#FEE79B"/>
<polygon points="808,518.7 809.3,516 820,516 820,526.7 824,533.3 829.3,538.7 826.7,545.3 810.7,546.7 800,540 800,536 808,532" fill="#FFFFE5"/>
<polygon points="800,518.7 805.3,518.7 808,518.7 808,532 800,536" fill="#FEE79B"/>
<polygon points="853.3,526.7 857.3,522.7 856.7,516.7 862.7,516.7 865.3,518.7 864.7,524 865.3,533.3 866.7,538.7 862.7,542.7 860,541.3 858.7,533.3" fill="#E1640E"/>
<polygon points="864.7,524 872,522.7 880,522 879.3,528 874.7,529.3 869.3,530.7 866.7,538.7 865.3,533.3" fill="#F68720"/>
<polygon points="868,514.7 869.3,512 874.7,509.3 876,504.7 878,509.3 880,514.7 880,522 872,522.7 864.7,524 865.3,518.7" fill="#FECE65"/>
<polygon points="875.3,504.7 886.7,505.3 885.3,514 886.7,520 888,526.7 892,533.3 885.3,541.3 881.3,544 874.7,545.3 866.7,538.7 869.3,530.7 874.7,529.3 879.3,528 880,514.7 878,509.3" fill="#933204"/>
<polygon points="885.3,514 893.3,516 900,514.7 906.7,520 913.3,526.7 917.3,533.3 917.3,538.7 910.7,536 905.3,530.7 901.3,534.7 896,530.7 892,528 888,526.7 886.7,520" fill="#C14702"/>
<polygon points="888,526.7 892,528 896,530.7 901.3,534.7 904.7,537.3 900,545.3 896,549.3 892,552 886.7,549.3 881.3,544 885.3,541.3 892,533.3" fill="#662506"/>
<polygon points="904.7,537.3 910.7,541.3 916,545.3 917.3,552 913.3,552 906.7,554.7 902.7,553.3 898.7,548 900,545.3" fill="#C14702"/>
<polygon points="892,552 896,549.3 898.7,548 902.7,553.3 902.7,558.7 900,562.7 893.3,561.3 887.3,558.7 888,554.7" fill="#662506"/>
<polygon points="874.7,545.3 881.3,544 886.7,549.3 892,552 888,554.7 887.3,558.7 880,557.3 874.7,558.7 869.3,558.7 870.7,553.3" fill="#C14702"/>
<polygon points="836.7,545.3 841.3,540 849.3,537.3 856,542.7 858.7,546.7 853.3,549.3 850.7,554.7 846.7,550.7 844,545.3 840,548" fill="#E1640E"/>
<polygon points="829.3,548 837.3,545.3 840,548 844,545.3 846.7,550.7 850.7,554.7 853.3,549.3 858.7,546.7 860,542.7 866.7,541.3 874.7,545.3 870.7,553.3 869.3,558.7 862.7,564 858.7,569.3 850.7,572 846.7,560 840,564 830.7,570.7 822.7,577.3 821.3,574.7 825.3,566.7 826.7,557.3" fill="#D9D9D9"/>
<polygon points="806.7,553.3 810.7,546.7 826.7,545.3 829.3,548 826.7,557.3 825.3,566.7 821.3,574.7 813.3,573.3 810.7,565.3" fill="#FEAC3A"/>
<polygon points="833.3,570.7 840,564 846.7,560 850.7,572 854.7,569.3 858.7,573.3 850.7,580 845.3,581.3 838.7,577.3" fill="#FEE79B"/>
<polygon points="858.7,569.3 862.7,564 869.3,558.7 874.7,558.7 880,557.3 887.3,558.7 893.3,561.3 900,562.7 906.7,562.7 913.3,568 917.3,573.3 917.3,586.7 913.3,593.3 912,600 893.3,600 896,586.7 890.7,578.7 880,574.7 873.3,580 868,586.7 862.7,584 856,580 858.7,573.3" fill="#FECE65"/>
<polygon points="898.7,562.7 906.7,562.7 913.3,568 917.3,573.3 917.3,586.7 913.3,593.3 910.7,600 905.3,600 902.7,586.7 901.3,573.3" fill="#FEAC3A"/>
<polygon points="868,586.7 873.3,580 880,574.7 890.7,578.7 896,586.7 893.3,600 869.3,600" fill="#FFF8C1"/>
<polygon points="846.7,585.3 850.7,580 856,580 862.7,584 868,586.7 869.3,600 853.3,600 849.3,592" fill="#D9D9D9"/>
<polygon points="800,573.3 813.3,573.3 821.3,574.7 822.7,577.3 828,576 828,586.7 830.7,594.7 836,592 840,582.7 845.3,581.3 850.7,580 846.7,585.3 849.3,592 853.3,600 813.3,600 808,586.7 800,588" fill="#FEAC3A"/>
<polygon points="828,576 833.3,570.7 838.7,577.3 840,582.7 836,592 830.7,594.7 828,586.7" fill="#D9D9D9"/>
<polygon points="800,546.7 806.7,553.3 810.7,565.3 813.3,573.3 800,573.3" fill="#FEAC3A"/>
<polygon points="918,566.7 922,566 923.3,570 920,572.7 917.3,570.7" fill="#FFF8C1"/>
<polygon points="848.8,580.8 863.3,570.4 867.5,562.1 880,560 898.8,563.1 901.9,574.6 905,585 912.3,589.2 912.3,603.8 905,607.9 898.8,612.1 893.5,618.3 890.4,626.7 884.2,622.5 875.8,616.2 880,610 888.3,607.9 888.3,595.4 894.6,587.1 892.5,578.8 880,575.6 869.6,585 859.2,580.8" fill="#FECE65"/>
<polygon points="898.8,563.1 905,560 913.3,566.2 917.5,576.7 917.5,587.1 912.3,589.2 905,585 901.9,574.6" fill="#FEAC3A"/>
<polygon points="869.6,585 880,575.6 892.5,578.8 894.6,587.1 888.3,595.4 877.9,593.3 869.6,595.4" fill="#FFF8C1"/>
<polygon points="859.2,601.7 869.6,595.4 877.9,593.3 888.3,595.4 888.3,607.9 880,610 875.8,616.2 869.6,620.4 863.3,618.3 861.2,610" fill="#FFFFE5"/>
<polygon points="848.8,580.8 859.2,580.8 869.6,585 869.6,595.4 859.2,601.7 852.9,597.5 850.8,589.2" fill="#D9D9D9"/>
<polygon points="869.6,620.4 875.8,616.2 884.2,622.5 890.4,626.7 884.2,630.8 877.9,641.2 867.5,639.2 857.1,641.2 857.1,632.9 863.3,626.7" fill="#FFFFE5"/>
<polygon points="819.6,632.9 832.1,628.8 838.3,635 848.8,637.1 857.1,632.9 857.1,641.2 867.5,639.2 877.9,641.2 875.8,649.6 877.9,657.9 871.7,664.2 863.3,670.4 857.1,668.3 852.9,657.9 846.7,653.8 840.4,660 832.1,655.8 823.8,649.6 818.5,645.4" fill="#FEE79B"/>
<polygon points="846.7,653.8 852.9,657.9 857.1,668.3 863.3,670.4 857.1,676.7 850.8,681.9 844.6,676.7 840.4,670.4 838.3,666.2 840.4,660" fill="#FECE65"/>
<polygon points="825.8,680.8 832.1,672.5 838.3,666.2 840.4,670.4 844.6,676.7 850.8,681.9 842.5,689.2 836.2,697.5 830,699.6 826.9,689.2" fill="#FFFFE5"/>
<polygon points="780,685 788.3,678.8 796.7,676.7 807.1,673.5 813.3,673.5 819.6,676.7 825.8,680.8 826.9,689.2 819.6,693.3 811.2,697.5 802.9,703.8 792.5,703.8 784.2,695.4" fill="#FFFFE5"/>
<polygon points="802.9,703.8 811.2,697.5 819.6,701.7 821.7,707.9 813.3,713.1 807.1,710" fill="#FFF8C1"/>
<polygon points="780,695.4 784.2,695.4 792.5,703.8 798.8,705.8 790.4,714.2 790.4,721.5 780,724.6" fill="#FEAC3A"/>
<polygon points="780,582.9 790.4,580.8 800.8,572.5 811.2,574.6 821.7,570.4 825.8,576.7 827.9,587.1 829,595.4 824.8,599.6 819.6,591.2 813.3,587.1 800.8,587.1 790.4,589.2 788.3,594.4 780,594.4" fill="#FEAC3A"/>
<polygon points="835.2,580.8 846.7,578.8 848.8,587.1 852.9,597.5 852.9,603.8 842.5,610 836.2,607.9 832.1,599.6 834.2,591.2" fill="#FEAC3A"/>
<polygon points="832.1,568.3 842.5,564.2 852.9,562.1 861.2,568.3 850.8,579.8 846.7,578.8 840.4,574.6" fill="#FEE79B"/>
<polygon points="807.1,560 817.5,572.5 823.8,568.3 825.8,560" fill="#FEAC3A"/>
<polygon points="910.2,664.2 917.5,670.4 915.4,682.9 910.2,701.7 906,714.2 899.8,722.5 897.7,734 894.6,732.9 893.5,724.6 886.2,718.3 883.1,707.9 884.2,695.4 892.5,682.9 900.8,670.4" fill="#FFF8C1"/>
<polygon points="698.3,743.3 706.7,737.1 712.9,730.8 717.1,724.6 723.3,720.4 731.7,721.5 727.5,726.7 725.4,739.2 717.1,745.4 710.8,748.5 706.7,753.8 712.9,762.1 710.8,766.2 702.5,767.3 698.3,757.9 697.3,747.5" fill="#FEE79B"/>
<polygon points="712.9,730.8 717.1,724.6 723.3,720.4 731.7,721.5 727.5,726.7 725.4,739.2 717.1,741.2" fill="#FFF8C1"/>
<polygon points="677.5,662.1 685.8,655.8 698.3,649.6 700.4,657.9 696.2,670.4 704.6,678.8 700.4,685 690,691.2 682.7,682.9 685.8,672.5 679.6,666.2" fill="#FEE79B"/>
<polygon points="698.3,649.6 706.7,647.5 717.1,643.3 725.4,645.4 727.5,653.8 721.2,664.2 721.2,672.5 719.2,684 706.7,682.9 704.6,678.8 696.2,670.4 700.4,657.9" fill="#FECE65"/>
<polygon points="589,626.7 594.2,622.5 602.5,621.5 610.8,622.5 619.2,616.2 633.8,616.2 643.1,620.4 637.9,628.8 631.7,635 623.3,641.2 612.9,635 604.6,634 598.3,637.1 591,638.1" fill="#FFF8C1"/>
<polygon points="646.2,572.5 656.7,564.2 665,566.2 668.1,574.6 665,585 656.7,585 652.5,591.2 644.2,596.5 636.9,591.2 642.1,586 646.2,585" fill="#FFFFE5"/>
<polygon points="712.9,568.3 721.2,567.3 731.7,570.4 740,576.7 743.1,582.9 740,593.3 733.8,597.5 721.2,599.6 717.1,591.2 719.2,582.9 724.4,575.6 715,574.6" fill="#FFFFE5"/>
<polygon points="744.2,580.8 756.7,578.8 765,574.6 769.2,580.8 775.4,591.2 775.4,603.8 769.2,609 756.7,610 740,610 736.9,605.8 748.3,599.6 750.4,591.2" fill="#FFFFE5"/>
<polygon points="729.6,630.8 740,624.6 748.3,620.4 758.8,626.7 758.8,641.2 752.5,645.4 742.1,645.4 739,635" fill="#FFFFE5"/>
<polygon points="774.4,587.1 779.6,582.9 790,580.8 790,594.4 779.6,594.4" fill="#FEAC3A"/>
<polygon points="746.2,716.2 752.5,703.8 760.8,697.5 771.2,693.3 774.4,697.5 771.2,705.8 765,714.2 754.6,718.3" fill="#FFFFE5"/>
<polygon points="771.2,697.5 776.5,692.3 781.7,695.4 790,705.8 790,718.3 783.8,716.2 777.5,710 771.2,705.8" fill="#FEAC3A"/>
<polygon points="779.6,680.8 790,678.8 790,705.8 781.7,695.4" fill="#FFFFE5"/>
<polygon points="765,714.2 771.2,705.8 777.5,710 783.8,716.2 779.6,722.5 769.2,722.5" fill="#FFFFE5"/>
<polygon points="540,645.4 548.3,642.3 554.6,647.5 564,647.5 566,660 562.9,672.5 558.8,680.8 560.8,685 552.5,687.1 546.2,682.9 540,676.7" fill="#FEAC3A"/>
<polygon points="564,647.5 571.2,643.3 579.6,645.4 584.8,653.8 581.7,664.2 587.9,676.7 579.6,679.8 573.3,676.7 562.9,681.9 562.9,672.5 566,660" fill="#FFF8C1"/>
<polygon points="546.2,682.9 552.5,687.1 560.8,685 558.8,680.8 562.9,681.9 573.3,676.7 579.6,679.8 577.5,687.1 562.9,690.2 560.8,701.7 555.6,703.8 548.3,693.3" fill="#FECE65"/>
<polygon points="579.6,679.8 587.9,676.7 594.2,679.8 587.9,689.2 589,701.7 593.1,710 594.2,720.4 590,716.2 584.8,719.4 577.5,721.5 567.1,718.3 560.8,720.4 555.6,712.1 560.8,701.7 562.9,690.2 577.5,687.1" fill="#E1640E"/>
<polygon points="554.2,430 570,430 573.3,436.7 576.7,443.3 572.5,455 566.7,455 560.8,449.2 558.3,441.7 552.5,440.8" fill="#C14702"/>
<polygon points="571.7,431.7 576.7,430 593.3,430 595,438.3 603.3,439.2 608.3,448.3 611.7,453.3 620,458.3 622.5,463.3 616.7,465.8 605,470 608.3,478.3 601.7,480.8 595,481.7 590,478.3 593.3,470 590,461.7 593.3,456.7 586.7,448.3 580,441.7 576.7,440" fill="#FEAC3A"/>
<polygon points="605,470 616.7,465.8 622.5,463.3 636.7,463.3 640,468.3 638.3,475 640,481.7 630,483.3 623.3,483.3 620,478.3 608.3,478.3" fill="#FECE65"/>
<polygon points="640,468.3 646.7,464.2 660,467.5 666.7,468.3 666.7,481.7 670,485 660,488.3 653.3,491.7 645,490.8 640,486.7 640,481.7 638.3,475" fill="#FEE79B"/>
<polygon points="660.8,461.7 670,460 670,481.7 666.7,480.8 666.7,468.3 663.3,465.8" fill="#F68720"/>
<polygon points="660,488.3 670,485 670,523.3 666.7,508.3 667.5,496.7 661.7,493.3" fill="#FFF8C1"/>
<polygon points="593.3,507.5 598.3,509.2 601.7,515 608.3,520 616.7,521.7 616.7,531.7 620,536.7 623.3,546.7 616.7,553.3 611.7,548.3 606.7,543.3 601.7,536.7 596.7,533.3 595.8,528.3 590,525 593.3,520 591.7,515" fill="#FFF8C1"/>
<polygon points="620.8,536.7 626.7,533.3 635,530.8 640,536.7 646.7,540 646.7,546.7 638.3,553.3 631.7,558.3 626.7,556.7 623.3,546.7" fill="#FFFFE5"/>
<polygon points="576.7,553.3 585,550 590,540 593.3,543.3 596.7,550 603.3,549.2 608.3,555 610,561.7 601.7,565 593.3,562.5 585,565.8 578.3,563.3" fill="#FFFFE5"/>
<polygon points="646.7,571.7 653.3,565 658.3,558.3 665,566.7 670,570 670,586.7 665,588.3 655,585 653.3,591.7 645,596.7 638.3,593.3 636.7,588.3 645,585 648.3,580" fill="#FFFFE5"/>
<polygon points="586.7,630 593.3,623.3 603.3,621.7 616.7,618.3 620,615 630,616.7 641.7,620 638.3,630" fill="#FFF8C1"/>
<polygon points="489.2,659.5 496,655 497.5,656.5 502,658 509.5,660.2 511.7,665.5 518.5,669.2 522.2,667.7 520,673 517,679 511.7,685 508,683.5 499.7,687.2 498.2,680.5 494.5,679 494.5,674.5 490.7,670" fill="#FEAC3A"/>
<polygon points="538.7,646 544,643 549.2,641.5 553,647.5 563.5,648.2 565,653.5 565.7,662.5 563.5,670 559,673 557.5,679 556,685 550,684.2 545.5,686.5 541,680.5 536.5,674.5 536.5,667 540.2,662.5" fill="#FEAC3A"/>
<polygon points="563.5,648.2 571,644.5 577,643.7 580.7,649 584.5,653.5 583,662.5 584.5,670 587.5,676 581.5,679 575.5,676 571,680.5 563.5,682 562,676 559,673 563.5,670 565.7,662.5 565,653.5" fill="#FFF8C1"/>
<polygon points="545.5,686.5 550,684.2 556,685 557.5,679 559,673 562,676 563.5,682 571,680.5 575.5,676 578.5,682 577,688 569.5,691.7 563.5,691 562,697 564.2,701.5 557.5,704.5 553,698.5 548.5,695.5" fill="#FECE65"/>
<polygon points="556,705.2 564.2,701.5 562,697 563.5,691 569.5,691.7 577,688 578.5,682 581.5,679 587.5,676 594.2,679 590.5,685 587.5,689.5 589,695.5 592,701.5 592.7,715 594.2,721 590.5,715 587.5,719.5 583,716.5 577,722.5 574,720.2 568,717.2 563.5,720.2 557.5,715 555.2,712" fill="#E1640E"/>
<polygon points="588.2,628 593.5,622.7 601,620.5 610,622 619,616 625,614.5 640,617.5 640,629.5 634,638.5 623.5,642.2 616,637 607.7,632.5 606.2,638.5 601,637 593.5,639.2 590.5,635.5" fill="#FFF8C1"/>
<polygon points="878,364 874,356 868.7,352 862,346.7 866,340 871.3,333.3 868.7,320 872.7,316 879.3,320 883.3,329.3 890,321.3 903.3,316 914,310.7 926,306.7 935.3,308 943.3,303.3 947.3,302.7 949.3,294.7 954,296 960.7,300 963.3,304.7 968.7,301.3 972,314.7 978,322.7 983.3,338.7 984.7,345.3 976.7,352 967.3,358.7 960.7,365.3 954,369.3 943.3,370.7 935.3,373.3 924.7,381.3 912.7,386.7 903.3,389.3 901.3,386.7 908.7,382.7 911.3,378.7 904.7,374.7 908.7,369.3 916.7,362.7 922,356 916.7,348 907.3,346.7 900.7,348 895.3,354.7 887.3,361.3" fill="#D9D9D9"/>
<polygon points="850,280 894,280 896.7,288 894,294.7 888.7,301.3 891.3,310.7 895.3,316 890,321.3 883.3,329.3 879.3,320 872.7,316 868.7,320 871.3,333.3 866,340 850,333.3" fill="#FFFFE5"/>
<polygon points="894,280 942,280 946,285.3 943.3,292 949.3,294.7 947.3,302.7 943.3,303.3 935.3,308 926,306.7 914,310.7 903.3,316 890,321.3 895.3,316 891.3,310.7 888.7,301.3 894,294.7 896.7,288" fill="#D9D9D9"/>
<polygon points="850,333.3 866,340 862,346.7 863.3,352 856.7,356 850,354.7" fill="#F68720"/>
<polygon points="850,354.7 856.7,356 862,362.7 860.7,370.7 864.7,376 860.7,382.7 852.7,385.3 850,385.3" fill="#FECE65"/>
<polygon points="856.7,356 863.3,352 870,349.3 874,356 878,364 870,372 867.3,378.7 860.7,382.7 864.7,376 860.7,370.7 862,362.7" fill="#FEAC3A"/>
<polygon points="870,349.3 882,342.7 895.3,340 899.3,342.7 900.7,348 895.3,354.7 887.3,361.3 878,364 874,356 868.7,352" fill="#FFF8C1"/>
<polygon points="896.7,334.7 904.7,326.7 911.3,325.3 926,322.7 927.3,329.3 922,333.3 911.3,337.3 910,342.7 914,346.7 907.3,346.7 900.7,348 899.3,342.7 895.3,340" fill="#FECE65"/>
<polygon points="900.7,322.7 903.3,316 914,310.7 926,306.7 932.7,310.7 931.3,317.3 926,322.7 911.3,325.3 904.7,326.7" fill="#FEE79B"/>
<polygon points="926,322.7 931.3,317.3 932.7,310.7 935.3,308 943.3,303.3 947.3,306.7 943.3,316 948.7,322.7 948.7,330.7 942,333.3 935.3,332.7 928.7,336 927.3,329.3" fill="#FEAC3A"/>
<polygon points="943.3,292 946,285.3 954,284 956.7,288 964.7,292 967.3,300 963.3,304.7 960.7,300 954,296 949.3,294.7" fill="#FEAC3A"/>
<polygon points="947.3,302.7 949.3,294.7 954,296 960.7,300 963.3,304.7 968.7,301.3 972,314.7 963.3,316 962,321.3 954,322.7 948.7,320 943.3,316 947.3,306.7" fill="#FFFFE5"/>
<polygon points="948.7,322.7 954,322.7 962,321.3 963.3,316 972,314.7 978,322.7 976.7,333.3 970,333.3 963.3,337.3 959.3,333.3 948.7,332 948.7,330.7" fill="#FECE65"/>
<polygon points="910,337.3 922,333.3 922,342.7 924.7,349.3 919.3,346.7 914,346.7 910,342.7" fill="#FEAC3A"/>
<polygon points="922,333.3 927.3,333.3 928.7,338.7 935.3,342.7 938,340 936.7,348 946,349.3 948.7,354.7 943.3,362.7 935.3,361.3 932.7,356 935.3,350.7 930,346.7 924.7,349.3 922,342.7" fill="#FFFFE5"/>
<polygon points="928.7,336 935.3,332.7 942,333.3 946.7,336 946.7,346.7 946,349.3 936.7,348 938,340 935.3,342.7 928.7,338.7" fill="#FECE65"/>
<polygon points="916.7,362.7 922,356 924.7,349.3 930,346.7 935.3,350.7 932.7,356 935.3,361.3 930,362.7 922,364" fill="#FECE65"/>
<polygon points="943.3,362.7 948.7,354.7 946,349.3 946.7,346.7 954,346.7 956.7,342.7 970,341.3 978,342.7 983.3,344 984.7,345.3 976.7,352 967.3,358.7 960.7,365.3 954,369.3 944.7,368" fill="#E1640E"/>
<polygon points="904.7,374.7 908.7,369.3 916.7,362.7 922,364 930,362.7 935.3,361.3 943.3,362.7 944.7,368 943.3,370.7 935.3,373.3 924.7,381.3 912.7,386.7 903.3,389.3 901.3,386.7 908.7,382.7 911.3,378.7" fill="#F68720"/>
<polygon points="954,284 963.3,280 991.3,280 987.3,288 988.7,296 983.3,297.3 979.3,293.3 974,290.7 968.7,297.3 964.7,292 956.7,288" fill="#FFF8C1"/>
<polygon points="991.3,280 1010,280 1010,306.7 1002,309.3 988.7,308 986,304 983.3,297.3 988.7,296 987.3,288" fill="#FECE65"/>
<polygon points="968.7,301.3 970,298.7 978,298.7 986,304 988.7,308 1002,309.3 998,320 992.7,325.3 998,333.3 996.7,338.7 984.7,345.3 983.3,338.7 978,322.7 972,314.7" fill="#F68720"/>
<polygon points="969.3,300 974,297.3 979.3,301.3 986,305.3 983.3,310.7 978,314.7 972.7,309.3" fill="#E1640E"/>
<polygon points="968.7,297.3 974,290.7 979.3,293.3 983.3,297.3 986,304 978,298.7 970,298.7" fill="#FEAC3A"/>
<polygon points="1002,309.3 1010,306.7 1010,330.7 1004.7,328 999.3,333.3 998,333.3 992.7,325.3 998,320" fill="#D9D9D9"/>
<polygon points="760,320 880,320 880,347 871,349 867,351 862,347 866,340 871,334 869,320 847,320 850,333 854,337 860,338 866,340 862,347 864,351 856,355 847,357 840,360 834,359 830,362 824,364 808,372 784,373 760,380" fill="#D9D9D9"/>
<polygon points="880,364 878,364 872,368 869,377 864,382 855,386 850,382 845,379 840,389 839,393 844,399 850,403 855,404 862,403 866,408 868,410 863,415 864,420 870,422 875,422 880,421" fill="#FFFFFF"/>
<polygon points="790,320 847,320 850,333 854,337 860,338 866,340 862,347 864,351 856,355 847,357 840,360 834,359 832,353 837,351 828,349 822,344 817,348 815,343 813,337 808,332 809,326 802,327 797,331 791,330" fill="#F68720"/>
<polygon points="848,320 869,320 871,334 866,340 860,338 854,337 850,333" fill="#FFFFE5"/>
<polygon points="871,349 880,347 880,364 878,364 875,358 874,353" fill="#FFF8C1"/>
<polygon points="840,360 847,357 856,355 860,360 859,368 863,374 869,377 864,382 855,386 850,382 845,379 844,374 839,370 838,365" fill="#FECE65"/>
<polygon points="856,355 864,351 867,351 874,353 875,358 878,364 872,368 869,376 863,374 859,368 860,360" fill="#FEAC3A"/>
<polygon points="800,364 808,358 806,353 812,350 817,348 822,344 828,349 832,353 834,359 830,362 824,364 827,370 824,372 819,373 817,375 813,374 808,372 804,373 801,370" fill="#FEE79B"/>
<polygon points="824,364 830,362 834,359 838,360 838,365 839,370 844,374 845,379 840,389 836,394 830,392 824,390 823,386 826,382 825,376 824,372 827,370" fill="#FEE79B"/>
<polygon points="824,364 830,363 832,368 830,372 827,370" fill="#FFF8C1"/>
<polygon points="760,357 764,358 770,354 775,350 779,358 774,364 781,368 784,373 782,381 775,383 771,385 763,372 760,368" fill="#FEE79B"/>
<polygon points="771,389 775,383 782,381 784,373 790,372 799,371 801,370 804,373 808,372 813,374 815,382 810,388 804,396 798,399 791,399 784,393 778,391" fill="#FEE79B"/>
<polygon points="813,374 817,375 819,373 824,372 825,376 826,382 823,386 821,394 815,390 810,388 815,382" fill="#FFF8C1"/>
<polygon points="804,396 810,388 815,390 821,394 823,386 824,390 830,392 836,394 839,393 844,399 838,406 824,409 817,416 819,406 813,407 807,401" fill="#FFFFE5"/>
<polygon points="766,396 771,389 778,391 784,393 791,399 798,399 797,407 795,413 800,418 806,424 800,430 793,427 785,428 771,426 776,414 771,404" fill="#FFF8C1"/>
<polygon points="798,399 804,396 807,401 813,407 819,406 817,416 814,415 806,424 800,418 795,413 797,407" fill="#FEAC3A"/>
<polygon points="760,379 768,377 773,381 771,389 766,396 760,395" fill="#F68720"/>
<polygon points="760,368 763,372 771,385 773,381 768,377 760,379" fill="#FEE79B"/>
<polygon points="760,396 766,396 771,404 773,410 768,408 760,405" fill="#FEE79B"/>
<polygon points="760,406 768,408 773,410 776,414 771,426 765,430 760,428" fill="#D9D9D9"/>
<polygon points="765,430 771,426 785,428 793,427 800,430 798,440 767,440" fill="#FEAC3A"/>
<polygon points="800,430 806,424 814,415 817,416 824,409 838,406 835,412 830,415 826,422 824,430 820,440 798,440" fill="#FECE65"/>
<polygon points="826,422 830,415 834,416 836,425 840,433 842,440 820,440 824,430" fill="#FEAC3A"/>
<polygon points="833,413 838,406 844,399 850,403 848,413 852,420 850,425 843,420 838,421 836,425 834,416" fill="#FFFFE5"/>
<polygon points="850,403 855,404 862,403 866,408 868,410 863,415 864,420 859,421 854,426 852,420 848,413" fill="#D9D9D9"/>
<polygon points="838,421 843,420 850,425 852,430 846,433 840,433 836,425" fill="#FFF8C1"/>
<polygon points="852,420 854,426 859,421 864,420 870,422 880,424 880,440 850,440 849,433 852,430 850,425" fill="#FECE65"/>
<polygon points="875,422 880,421 880,424" fill="#E1640E"/>
<polygon points="885,514.2 893.3,515 901.7,515.8 907.5,519.2 909.2,524.2 914.2,526.7 917.1,532.5 917.5,536.7 914.2,536.7 910,534.2 905.4,530.4 901.7,533.3 899.2,531.7 895.8,528.3 888.3,527.1 887.5,523.3" fill="#C14702"/>
<polygon points="875.4,503.8 886.7,505 885,509.2 885,514.2 887.5,523.3 888.3,527.1 892.5,532.5 891.7,538.3 885,541.7 881.2,545 877.5,544.2 870.8,543.3 866.7,539.2 869.2,531.7 876.7,532.5 877.9,527.5 880,523.3 878.3,515.8 879.6,510.8" fill="#933204"/>
<polygon points="888.3,527.1 895.8,528.3 899.2,531.7 905,536.7 903.3,539.2 900,544.2 897.5,548.3 891.7,552.1 889.2,550 885,548.3 881.2,545 885,541.7 891.7,538.3 892.5,532.5" fill="#662506"/>
<polygon points="903.3,539.2 906.7,538.3 911.7,541.7 915,545 917.5,548.3 917.1,551.7 910,553.3 905,554.2 900.8,551.7 897.5,548.3 900,544.2" fill="#C14702"/>
<polygon points="887.5,555.8 890.8,552.1 891.7,552.1 897.5,548.3 900.8,551.7 905,554.2 900.8,557.5 899.2,562.5 894.2,561.7 888.3,560.8" fill="#662506"/>
<polygon points="869.2,556.7 874.2,548.3 877.5,544.2 881.2,545 885,548.3 889.2,550 891.7,552.1 890.8,552.1 887.5,555.8 881.7,559.2 875,556.7 870.8,560" fill="#C14702"/>
<polygon points="896.7,563.3 899.2,562.5 900.8,557.5 906.7,561.7 911.7,566.7 915,569.2 918.3,572.5 915,575.8 917.5,581.7 916.7,585.8 913.3,590 910,586.7 903.3,581.7 900.8,573.3 900,567.5" fill="#FEAC3A"/>
<polygon points="901,557.3 905,554.3 910,553.5 917.1,551.8 918.3,555.8 923.3,556.7 923.3,572.5 918.5,572.3 915,569 911.7,566.5 906.7,561.5" fill="#FFFFFF"/>
<polygon points="723.3,478.7 728.7,472 738,468 748.7,470.7 754,474.7 752.7,480 748.7,480 743.3,490.7 738,493.3 730,492 724,486.7" fill="#FFF8C1"/>
<polygon points="789.3,472 796.7,470.7 800.7,474.7 810,476 814.7,480 818,484 814,488 810,490.7 803.3,486 796.7,485.3 791.3,480" fill="#FECE65"/>
<polygon points="778,480 788.7,481.3 791.3,480 796.7,485.3 803.3,486 802,493.3 798,497.3 792.7,502.7 786,498.7 783.3,493.3 779.3,486.7" fill="#FFF8C1"/>
</g>
<g fill="none" stroke="#5a5a5a" stroke-width="1.15">
<polyline points="472.5,308 485,330 480,334 492.5,347.5 494,352.5 496,365.5 486,365.5 477.5,374 476,381 469,382.5 467.5,394 455,401 440,397.5 425,397.5 422.5,390 411,389 400,386 397.5,382 386,382.5 385,384 355,392.5 345.5,396 346,400 354,401 354,412.5 362.5,416 366,424 355,432.5 361,437.5 362.5,445 342.5,444 330,440 317.5,437 295,439 276,442.5 262.5,451 251,447.5 250,452.5 242.5,458 220,458 215,454 205,454.5 200,460 192.5,462 180,459 170,459 161,475 155,478 145,479.5"/>
<polyline points="476,381 487.5,387.5 492.5,384 500,382.5 512.5,391 524,397.5 530,400 540,405 555,410 567.5,420 571,425 567.5,424 572.5,435 576,442.5 571,456"/>
<polyline points="526,359 520,367.5 530,372.5 537.5,377.5 540,385 552.5,391 557.5,384 565,380 580,382.5 587.5,376 596,376 597.5,385 586,397.5 584,407.5 592.5,412.5 601,416 612.5,414 626,407.5 627.5,392.5 635,381 645,377.5 647.5,382.5 650,384"/>
<polyline points="494,352.5 500,349 507.5,350 510,346 526,347 527.5,351 526,359"/>
<polyline points="332.5,445 340,447.5 334,460 340,472.5 337.5,486 350,501 365,505 380,511 397.5,514 410,517.5 425,515 437.5,522.5 441,531 452.5,531 455,536 465,534 465,527.5 474,525 476,516"/>
<polyline points="640,399 652.5,404 660,409 655,410 654,417.5 654,422.5 640,424 637.5,435 646,446 640,450 642.5,460 650,462 661,462.5 661,469"/>
<polyline points="476.7,516.7 477.5,503.3 480,496.7 476.7,490 485,482.5 493.3,485.8 498.3,495 501.7,501.7 510,508.3 516.7,511.7 520,507.5 525,513.3 533.3,516.7 543.3,512.5 543.3,503.3 553.3,501.7 556.7,503.3 562.5,501.7 563.3,493.3 561.7,487.5 568.3,485.8 575,480.8 580,485 580,491.7 593.3,494.2 598.3,498.3 601.7,501.7 600,510 603.3,513.3 613.3,515 620,512.5 621.7,510 628.3,510 626.7,501.7 630,496.7 638.3,493.3 640,486.7"/>
<polyline points="566.7,455 563.3,463.3 558.3,468.3 557.5,476.7 562.5,480 560,483.3 550,480 538.3,480 536.7,483.3 543.3,490 550,493.3 556.7,496.7 555,501.7"/>
<polyline points="616.7,430 621.7,438.3 618.3,446.7 626.7,453.3 635,460 643.3,456.7 646.7,448.3 640,440 640,433.3 645,430"/>
<polyline points="628.3,510 636.7,511.7 646.7,513.3 653.3,518.3 663.3,520.8 670,525"/>
<polyline points="670,540 661.7,550 655,560 650,567.5 643.3,566.7 636.7,563.3 628.3,560.8 623.3,565 624.2,571.7 618.3,576.7 620.8,583.3 626.7,588.3 635,595 636.7,600 645,595 653.3,591.7"/>
<polyline points="575,630 576.7,621.7 585,613.3 586.7,606.7 593.3,596.7 601.7,596.7 600,603.3 603.3,611.7 613.3,608.3 616.7,613.3 620,615 630,613.3 636.7,610 633.3,603.3 625,601.7 623.3,598.3 630,595 635,595"/>
<polyline points="505.8,588.3 508.3,601.7 511.7,605 513.3,596.7 516.7,593.3 521.7,598.3 525,606.7 528.3,613.3 536.7,611.7 540,621.7 543.3,630"/>
<polyline points="470,526.7 475,525.8 476.7,516.7 486.7,518.3 491.7,523.3 495,530 496.7,536.7 501.7,540 498.3,545 503.3,553.3 505,566.7 506.7,580 505.8,588.3 500.8,590 498.3,590 499.2,598.3 491.7,603.3 490,606.7"/>
<polyline points="526,610 533.5,613 539.5,622 544,629.5 550,635.5 549.2,641.5 553,647.5 563.5,646 571,643.7 577,642.2 575.5,632.5 574,623.5 580,617.5 584.5,610"/>
<polyline points="610,610 617.5,611.5 619,616 610,622 601,620.5 593.5,622.7 588.2,628 590.5,635.5 593.5,639.2 601,637 606.2,640 604,647.5 601,656.5 605.5,662.5 610,665.5 604.7,676 604,680.5 611.5,683.5 617.5,689.5 625,688 632.5,689.5 634,698.5 629.5,703 623.5,706 622,709"/>
<polyline points="604.6,678.8 612.9,672.5 627.5,675.6 637.9,668.3 648.3,664.2 652.5,660 658.8,665.2 667.1,666.2 673.3,662.1 677.5,662.1 685.8,655.8 693.1,651.7"/>
<polyline points="693.1,651.7 694.2,643.3 690,637.1 694.2,632.9 682.7,627.7 689,620.4 692.1,610 687.9,597.5 690,585 694.2,576.7 712.9,573.5"/>
<polyline points="690,585 685.8,580.8 683.8,572.5 675.4,571.5 673.3,560"/>
<polyline points="677.5,601.7 671.2,593.3 665,587.1 656.7,586 652.5,591.2 644.2,596.5 642.1,598.5 637.9,594.4 631.7,594.4 623.3,599.6 627.5,606.9 635.8,609 633.8,613.1 619.2,615.2"/>
<polyline points="693.1,651.7 698.3,649.6 706.7,647.5 717.1,643.3 725.4,645.4 728.5,653.8 721.2,664.2 723.3,668.3 727.5,668.3 729.6,675.6 737.9,675.6 740,668.3 748.3,667.3 754.6,664.2 760.8,661 769.2,663.1 777.5,664.2 785.8,662.1 790,666.2"/>
<polyline points="737.9,675.6 735.8,685 731.7,695.4 725.4,705.8 725.4,714.2 723.3,720.4"/>
<polyline points="777.5,587.1 777.5,601.7 769.2,614.2 767.1,622.5 773.3,637.1 775.4,649.6 773.3,663.1"/>
<polyline points="777.5,664.2 783.8,672.5 779.6,680.8 790,678.8"/>
<polyline points="711.7,400 715.8,410 713.3,418.3 710,425 710.8,430 710,448.3 710,463.3 706.7,470 709.2,475"/>
<polyline points="709.2,475 720,471.7 731.7,466.7 740,461.7 756.7,460 766.7,455 767.5,450 770,439.2"/>
<polyline points="770,439.2 778.3,440.8 790,442.5 799.2,443.3"/>
<polyline points="799.2,443.3 800,441.7 798.3,440"/>
<polyline points="799.2,443.3 799.2,450 790,463.3 798.3,470 803.3,475 816.7,473.3"/>
<polyline points="816.7,473.3 819.2,468.3 826.7,470 831.7,475 840,478.3"/>
<polyline points="816.7,473.3 813.3,476.7 815,480 821.7,485.8 820,485.8 813.3,490 803.3,486.7 802.5,495 799.2,496.7 796.7,502.5 790,505.8 796.7,515 803.3,519.2 808.3,516.7 809.2,516.7 808.3,530 800,536.7 795,539.2 790,546.7 793.3,556.7 788.3,560 783.3,568.3"/>
<polyline points="709.2,475 713.3,485 720,495 724.2,508.3 730,515 743.3,520 756.7,520 760,513.3 769.2,520 776.7,531.7 785,533.3 795,539.2"/>
<polyline points="695,504.2 718.3,502.5 724.2,508.3"/>
<polyline points="695,504.2 698.3,506.7 703.3,509.2 705,515 694.2,516.7 696.7,531.7 703.3,536.7 705,546.7 698.3,551.7 690,556.7 675,558.3 673.3,573.3 681.7,580 690,583.3 688.3,600"/>
<polyline points="690,583.3 703.3,575 711.7,573.3 711.7,568.3 726.7,566.7 740,575 755,576.7 756.7,573.3 760,580 766.7,573.3 768.3,583.3 770,593.3 778.3,600"/>
<polyline points="640,421.7 650,426.7 661.7,430 675,436.7 679.2,443.3 675.8,451.7 679.2,455.8 675.8,460.8 660.8,462.5 651.7,468.3 640,466.7"/>
<polyline points="658.3,410.8 654.2,415 655.8,421.7 650,426.7"/>
<polyline points="640,513.3 650,515 656.7,520 673.3,523.3 675.8,533.3 668.3,541.7 663.3,550 656.7,558.3 650,566.7 645,568.3 640,561.7"/>
<polyline points="673.3,523.3 690,530 696.7,531.7"/>
<polyline points="800,472 816,473.3 817.3,470.7 824,468 828.7,472 833.3,476 841.3,474.7 846.7,473.3 850.7,477.3 854,474.7 858.7,471.3 864,466 868,466"/>
<polyline points="814,476 814.7,479.3 819.3,481.3 822,486 826.7,485.3 827.3,485.3 836,486 840,492 848,493.3 845.3,498.7 845.3,502.7 850,504 853.3,512 858.7,509.3 864,508 868,514.7 865.3,518.7 862.7,516.7 856.7,516.7 857.3,522.7 853.3,526.7 858.7,533.3 860,541.3 862.7,542.7 866.7,538.7 874.7,545.3 870.7,553.3 869.3,558.7"/>
<polyline points="869.3,558.7 862.7,564 858.7,569.3 858.7,573.3 856,580 850.7,580 846.7,585.3 849.3,592 853.3,600"/>
<polyline points="800,496.7 802.7,496 802.7,489.3 806,485.3 810.7,491.3 814,476"/>
<polyline points="800,518 805.3,518.7 808,518.7 808,532 800,536"/>
<polyline points="813.3,573.3 821.3,574.7 822.7,577.3 828,576 833.3,570.7 838.7,577.3 845.3,581.3 850.7,580"/>
<polyline points="800,546.7 806.7,553.3 810.7,565.3 813.3,573.3 808,586.7 800,588"/>
<polyline points="848.8,580.8 850.8,589.2 852.9,597.5 852.9,603.8 859.2,604.8 861.2,610 863.3,618.3 869.6,620.4 875.8,616.2 884.2,622.5 890.4,626.7"/>
<polyline points="852.9,603.8 842.5,610 830,616.2 832.1,628.8 819.6,632.9 818.5,645.4 813.3,653.8 807.1,670.4 807.1,673.5"/>
<polyline points="780,685 788.3,678.8 796.7,676.7 807.1,673.5 813.3,673.5 819.6,676.7 825.8,680.8 826.9,689.2 830,699.6 830,702.7"/>
<polyline points="835.2,580.8 830,576.7 827.9,587.1 829,595.4 832.1,599.6"/>
<polyline points="900,92.5 912.5,97.5 905,105 915,112.5 924,110 931,116 930,122.5 936,132.5 942.5,134.5 955,132.5 967.5,133 975,126 982.5,130 990,140 985,147.5 977.5,157.5 974,174 967.5,180 964,187.5 961,197.5 959,191 945,200 926,212.5 930,220 936,225 935,231 936,237 935,240 922.5,242.5 912.5,245 916,250 921,255 920,265 925,278 930,275 942.5,267.5 940,274 946,282.5"/>
<polyline points="935,240 952.5,236 959,252.5 950,257.5 942.5,267.5"/>
<polyline points="980,253 988,259 996.5,257.5 1007.5,261.5 1009,270 1016,271.5 1021,281 1025,281 1030,273 1033,272.5 1035,280 1040,290 1042.5,292.5 1046.5,291 1047.5,287.5 1058,283 1063,285 1068,282.5 1068,288 1076.5,291.5 1084,293"/>
<polyline points="959,252.5 970,252.5 985,251 987.5,252.5 980,253"/>
<polyline points="1001.5,309 1005,306 1015,310 1017.5,302.5 1024,314 1026,322.5"/>
<polyline points="724,375 730,372 735,372.5 737.5,367.5 744,359 747.5,360 762.5,355 776,350 775,342.5 771,336 777.5,330 782.5,322"/>
<polyline points="720,376 722.5,384 721,390 716,397.5 712,402"/>
<polyline points="644,362.5 646,372.5 650,384 644,390 640,399"/>
<polyline points="640,399 652.5,404 660,409 670,412.5 680,410 680,404 685,397.5 692.5,390 700,381 705,376 720,376 724,375"/>
<polyline points="603,416 607,420 616.5,430 620,446.5 633,458 640,465"/>
<polyline points="878,364 874,356 868.7,352 862,346.7 866,340 871.3,333.3 868.7,320 872.7,316 879.3,320 883.3,329.3 890,321.3 903.3,316 914,310.7 926,306.7 935.3,308 943.3,303.3 947.3,302.7 949.3,294.7 943.3,292 946,285.3 942,280"/>
<polyline points="949.3,294.7 954,296 960.7,300 963.3,304.7 968.7,301.3 972,314.7 978,322.7 983.3,338.7 984.7,345.3"/>
<polyline points="800,364 808,358 806,353 812,350 817,348 822,344 828,349 832,353 834,359 830,362 824,364 827,370 824,372 819,373 817,375 813,374 808,372 804,373 801,370 800,364"/>
<polyline points="834,359 838,360 838,365 839,370 844,374 845,379"/>
<polyline points="824,372 825,376 826,382 823,386 824,390 830,392 836,394 839,393"/>
<polyline points="824,364 830,363 832,368 830,372 827,370"/>
<polyline points="826,320 825,321 816,323 809,326 802,327 797,331 791,330 790,320 784,322 778,329 773,335 772,342 776,349 775,350 779,358 774,364 781,368 784,373 782,381 775,383 771,389 766,396 771,404 776,414 771,426 765,430 767,440"/>
<polyline points="848,320 850,333 854,337 860,338 866,340 871,334 869,320"/>
<polyline points="866,340 862,347 867,351 874,353 875,358 880,364"/>
<polyline points="839,393 844,399 838,406 824,409 817,416 814,415 806,424 800,430 798,440"/>
<polyline points="900.8,557.5 905,554.2 910,553.3 917.1,551.7 917.5,548.3 915,545 911.7,541.7 906.7,538.3"/>
<polyline points="900.8,557.5 906.7,561.7 911.7,566.7 915,569.2 918.3,572.5 915,575.8 917.5,581.7 916.7,585.8 918.3,590"/>
<polyline points="865,559.2 869.2,556.7 874.2,548.3 877.5,544.2 881.2,545 885,548.3 889.2,550 891.7,552.1 897.5,548.3 900,544.2 903.3,539.2 905,536.7"/>
<polyline points="897.5,548.3 900.8,551.7 905,554.2"/>
<polygon points="95,450 91,432.5 75,425 65,422.5 76,417.5 71,397.5 55,394 47.5,377.5 55,364 70,356 84,351 87.5,357.5 101,354 107.5,344 122.5,344 130,336 155,326 167.5,321 167.5,307.5 177.5,299 171,280 170,270 161,264 172.5,260 195,254.5 209,258 210,254 204,249 216,222.5 220,216 232.5,222.5 250,221 252.5,224.5 265,216 264,197.5 269,192.5 282.5,190 285,180 292.5,176 305,177 305,185 317.5,195 330,201 345,204 352.5,210 355,217.5 362.5,227.5 360,240 355,250 359,258 372.5,260 392.5,261 407.5,264 422.5,272.5 440,277.5 440,282.5 445,287.5 450,300 457.5,306 472.5,307.5 492.5,310 515,312 530,309.5 555,314 560,319 580,323 602.5,326 605,330 614,331 616,329 635,320 655,315 680,314 692.5,314.5 710,307.5 721,296 737.5,286 727.5,274 732.5,265.5 739,260 750,261 765,267 780,260 787.5,254 805,253 815,245 819,237.5 836,230 855,227.5 880,230 880,225 872.5,216 855,202.5 842.5,201 835,207.5 820,204 811,206 802.5,200 805,194 821,164 842.5,169 855,161 869,157.5 866,151 879,130 895,117.5 894,107.5 882.5,105 887.5,101 900,92.5 920,90 945,87 960,91 977.5,95 990,104 997.5,115 1002.5,127.5 1007.5,134 1006,140 1011,140 1015,148 1019,156 1016.5,160 1021,167.5 1031.5,168 1038,168 1045,172.5 1051.5,171.5 1056.5,176 1061.5,181 1072.5,183 1071.5,188 1076,191.5 1074,197.5 1080,206.5 1090,207.5 1105,206 1109,202.5 1116.5,198 1130,195 1140,193 1146.5,193 1152.5,191 1152.5,193.5 1146.5,196 1144,201.5 1147.5,206.5 1143,211.5 1140,206.5 1136.5,214 1136,220 1131.5,233 1128,241.5 1123,248 1118,253 1117.5,260 1114,261.5 1105,259 1096.5,256.5 1095,255 1090,260 1080,264 1082.5,271.5 1084,281.5 1084,293 1085,295 1081.5,305 1073,308 1068,309 1072.5,315 1068,311.5 1063,304 1059,304 1056.5,313 1050,315 1046.5,320 1041.5,323 1028,323 1026.5,326.5 1030,333 1026.5,336.5 1011.5,333 1006.5,328 1001.5,330 996.5,336 988.5,344.5 980,351 967.5,359 957,365.5 946.5,369.5 934,372.5 921.5,380 913,385 902,389 909,383 905,375 913,367.5 921.5,357 917.5,351 905,347.5 896.5,352 888,359 878,363 869.5,369.5 863,380 853,385 844.5,383 840.5,392.5 844.5,399 859,402 869.5,409 863.5,413 864.5,419.5 874,422.5 880,418.5 888.5,410 895.5,408 905,413 917.5,414.5 930,417.5 926,427 913.5,430 901,433 892.5,438.5 884,445.5 876,455 869.5,463.5 867.5,466.5 876,474 886,479 892.5,492.5 899,507 900,515.5 907,520.5 913.5,528 917.5,535 915.5,542.5 917.5,551 909,554 901,558 905,561 913.5,567.5 917.5,574 916.5,580 913.3,566.2 917.5,576.7 917.5,587.1 912.3,589.2 912.3,603.8 905,607.9 898.8,612.1 893.5,618.3 890.4,626.7 884.2,630.8 877.9,641.2 875.8,649.6 877.9,657.9 871.7,664.2 863.3,670.4 857.1,676.7 850.8,681.9 842.5,689.2 836.2,697.5 830,702.7 821.7,707.9 813.3,713.1 800.8,718.3 790.4,721.5 780,726.7 779.6,726.7 769.2,722.5 760.8,732.9 752.5,738.1 744.2,737.1 735.8,741.2 725.4,743.3 717.1,745.4 710.8,748.5 706.7,753.8 712.9,762.1 710.8,766.2 702.5,767.3 698.3,757.9 697.3,747.5 700.4,743.3 696.2,741.2 690,743.3 681.7,740.2 673.3,742.3 662.9,741.2 654.6,739.2 648.3,732.9 643.1,726.7 642.1,720.4 645.2,715.2 637.9,713.1 629.6,711 622.3,709 618.1,704.8 610.8,709 604.6,714.2 598.3,715.2 594.2,720.4 594.2,721 590.5,715 587.5,719.5 583,716.5 577,722.5 574,720.2 568,717.2 563.5,720.2 557.5,721.7 552.2,723.2 550.7,730 554.5,739 554.5,748 550,748.7 545.5,748 542.5,737.5 539.5,739 532,742.7 526,742 522.2,737.5 520,731.5 508,729.2 511.7,718 514,713.5 511.7,709.7 504.2,707.5 503.5,700 499.7,696.2 500.5,691.7 498.2,688 488.5,689.5 481.7,694 478.7,692.5 482.5,688 480.2,683.5 478.7,676.7 481.7,674.5 482.5,667 489.2,659.5 496,655 499.7,646 500.5,632.5 499.7,619 492.2,617.5 488.5,610 487.5,604 480,599 475,607.5 471,615 460,606 447.5,604 435,612.5 420,617.5 412.5,625 405,631 382.5,632.5 380,621 374,619 367.5,609 355,607.5 342.5,605 332.5,610 326,625 322.5,622.5 320,607.5 305,612.5 292.5,612.5 282.5,607.5 272.5,611 266,602.5 257.5,602.5 255,597.5 241,592.5 237.5,584 229,585 222.5,577.5 205,569 201,562.5 190,560 186,568 180,562.5 166,556 157.5,549 147.5,547.5 141,540 137.5,527.5 135,517.5 141,515 145,520 151,515 150,505 142.5,497.5 140,486 145,479.5 140,477.5 132.5,472.5 129,457.5 124,456 112.5,454.5 102.5,450"/>
<polygon points="910.2,664.2 917.5,670.4 915.4,682.9 910.2,701.7 906,714.2 899.8,722.5 897.7,734 894.6,732.9 893.5,724.6 886.2,718.3 883.1,707.9 884.2,695.4 892.5,682.9 900.8,670.4"/>
</g>
<g fill="none" stroke="#5a5a5a" stroke-width="1.1" stroke-linecap="butt">
<line x1="883" y1="792.5" x2="872.5" y2="814.4" stroke-width="1.0"/>
<line x1="865" y1="853.4" x2="865" y2="875.6" stroke-width="1.6"/>
<line x1="863.5" y1="936" x2="855.4" y2="959.6" stroke-width="1.0"/>
<line x1="814.9" y1="1018" x2="801.4" y2="1035.4" stroke-width="1.0"/>
<line x1="753.4" y1="1105.3" x2="734.5" y2="1111.3" stroke-width="1.0"/>
<line x1="670" y1="1037" x2="671.5" y2="1059.4" stroke-width="1.3"/>
<line x1="708.4" y1="931.4" x2="703.6" y2="952" stroke-width="1.3"/>
<line x1="932" y1="680" x2="927" y2="702.5" stroke-width="1.4"/>
<line x1="916.5" y1="738" x2="902" y2="757" stroke-width="1.0"/>
<path d="M689.5 850.4 Q696.5 860 699.4 872"/>
<line x1="738.4" y1="846.6" x2="740.2" y2="847.6" stroke-width="1.1"/>
<line x1="732.4" y1="852.9" x2="734.4" y2="853.8" stroke-width="1.1"/>
<line x1="730.2" y1="839.9" x2="728.2" y2="841.1" stroke-width="1.1"/>
<line x1="742.6" y1="847.5" x2="745.1" y2="847.9" stroke-width="1.1"/>
<line x1="742.2" y1="836.1" x2="739.8" y2="834.8" stroke-width="1.1"/>
<line x1="728.8" y1="854.9" x2="726.5" y2="854.3" stroke-width="1.1"/>
<line x1="741.6" y1="837.1" x2="739.5" y2="837.1" stroke-width="1.1"/>
<line x1="743.2" y1="843.9" x2="745.0" y2="844.0" stroke-width="1.1"/>
<line x1="749.4" y1="834.2" x2="751.1" y2="833.4" stroke-width="1.1"/>
<line x1="734.6" y1="833.8" x2="732.9" y2="834.9" stroke-width="1.1"/>
<line x1="736.9" y1="856.9" x2="735.4" y2="858.2" stroke-width="1.1"/>
<line x1="729.2" y1="841.8" x2="731.0" y2="842.0" stroke-width="1.1"/>
<line x1="775.6" y1="859.4" x2="776.9" y2="858.9" stroke-width="1.1"/>
<line x1="789.4" y1="860.6" x2="788.0" y2="861.2" stroke-width="1.1"/>
<line x1="772.2" y1="856.5" x2="773.6" y2="856.7" stroke-width="1.1"/>
<line x1="780.1" y1="852.7" x2="778.3" y2="852.3" stroke-width="1.1"/>
<line x1="779.1" y1="863.9" x2="777.5" y2="865.3" stroke-width="1.1"/>
<line x1="788.7" y1="950.2" x2="787.2" y2="949.9" stroke-width="1.1"/>
<line x1="789.5" y1="955.9" x2="788.3" y2="954.9" stroke-width="1.1"/>
<line x1="782.5" y1="945.2" x2="784.9" y2="944.8" stroke-width="1.1"/>
<line x1="776.3" y1="948.5" x2="775.0" y2="948.2" stroke-width="1.1"/>
<line x1="785.6" y1="947.2" x2="787.9" y2="946.1" stroke-width="1.1"/>
<line x1="781.6" y1="955.7" x2="784.0" y2="956.6" stroke-width="1.1"/>
<line x1="779.2" y1="948.2" x2="777.1" y2="947.9" stroke-width="1.1"/>
<line x1="777.1" y1="970.9" x2="775.7" y2="969.5" stroke-width="1.1"/>
<line x1="789.1" y1="976.8" x2="790.6" y2="977.8" stroke-width="1.1"/>
<line x1="779.9" y1="978.9" x2="777.4" y2="980.3" stroke-width="1.1"/>
<line x1="768.2" y1="985.7" x2="766.6" y2="987.0" stroke-width="1.1"/>
<line x1="770.1" y1="968.6" x2="771.9" y2="967.9" stroke-width="1.1"/>
<line x1="766.2" y1="978.4" x2="764.8" y2="977.3" stroke-width="1.1"/>
<line x1="776.3" y1="980.2" x2="774.2" y2="981.5" stroke-width="1.1"/>
<line x1="776.9" y1="981.2" x2="779.4" y2="979.8" stroke-width="1.1"/>
<line x1="780.9" y1="985.8" x2="782.6" y2="987.3" stroke-width="1.1"/>
<line x1="797.3" y1="982.8" x2="794.8" y2="983.5" stroke-width="1.1"/>
<line x1="816.1" y1="992.1" x2="817.8" y2="992.7" stroke-width="1.1"/>
<line x1="822.0" y1="995.1" x2="824.5" y2="993.7" stroke-width="1.1"/>
<line x1="810.0" y1="962.6" x2="811.7" y2="961.1" stroke-width="1.1"/>
<line x1="797.2" y1="965.4" x2="794.6" y2="966.6" stroke-width="1.1"/>
<line x1="816.8" y1="976.8" x2="818.7" y2="977.8" stroke-width="1.1"/>
<line x1="797.5" y1="990.5" x2="795.9" y2="989.3" stroke-width="1.1"/>
<line x1="795.7" y1="998.4" x2="793.8" y2="998.7" stroke-width="1.1"/>
<line x1="822.6" y1="971.7" x2="820.9" y2="970.7" stroke-width="1.1"/>
<line x1="813.4" y1="981.7" x2="815.5" y2="981.5" stroke-width="1.1"/>
<line x1="821.8" y1="974.4" x2="823.2" y2="974.2" stroke-width="1.1"/>
<line x1="819.2" y1="996.7" x2="817.4" y2="997.0" stroke-width="1.1"/>
<line x1="804.5" y1="967.2" x2="806.2" y2="968.4" stroke-width="1.1"/>
<line x1="825.8" y1="951.6" x2="828.2" y2="950.4" stroke-width="1.1"/>
<line x1="834.4" y1="973.1" x2="836.2" y2="973.2" stroke-width="1.1"/>
<line x1="838.4" y1="967.9" x2="840.1" y2="968.9" stroke-width="1.1"/>
<line x1="830.6" y1="965.2" x2="832.6" y2="964.6" stroke-width="1.1"/>
<line x1="840.8" y1="950.5" x2="839.1" y2="949.5" stroke-width="1.1"/>
<line x1="752.6" y1="1000.7" x2="750.3" y2="1002.1" stroke-width="1.1"/>
<line x1="731.7" y1="994.4" x2="734.2" y2="994.9" stroke-width="1.1"/>
<line x1="734.4" y1="1009.0" x2="732.2" y2="1009.8" stroke-width="1.1"/>
<line x1="745.1" y1="991.4" x2="743.5" y2="991.0" stroke-width="1.1"/>
<line x1="750.3" y1="1010.8" x2="748.6" y2="1011.7" stroke-width="1.1"/>
<line x1="757.0" y1="993.5" x2="758.4" y2="993.3" stroke-width="1.1"/>
<line x1="748.0" y1="1026.4" x2="750.0" y2="1026.9" stroke-width="1.1"/>
<line x1="744.1" y1="1022.8" x2="745.9" y2="1023.2" stroke-width="1.1"/>
<line x1="775.1" y1="1028.0" x2="773.6" y2="1029.2" stroke-width="1.1"/>
<line x1="794.5" y1="1034.4" x2="796.1" y2="1035.1" stroke-width="1.1"/>
<line x1="770.4" y1="1022.6" x2="768.6" y2="1022.8" stroke-width="1.1"/>
<line x1="789.2" y1="1022.2" x2="787.7" y2="1023.3" stroke-width="1.1"/>
<line x1="780.7" y1="1010.9" x2="782.9" y2="1012.1" stroke-width="1.1"/>
<line x1="781.8" y1="1035.0" x2="784.3" y2="1035.0" stroke-width="1.1"/>
<line x1="755.3" y1="1057.2" x2="753.5" y2="1057.3" stroke-width="1.1"/>
<line x1="753.6" y1="1069.0" x2="751.7" y2="1070.1" stroke-width="1.1"/>
<line x1="749.8" y1="1062.8" x2="752.4" y2="1063.9" stroke-width="1.1"/>
<line x1="750.5" y1="1062.6" x2="748.0" y2="1062.7" stroke-width="1.1"/>
<line x1="750.0" y1="1060.0" x2="748.1" y2="1060.3" stroke-width="1.1"/>
<circle cx="756" cy="783" r="0.5"/>
<circle cx="771" cy="789" r="0.5"/>
<circle cx="823" cy="847" r="0.5"/>
<circle cx="841" cy="871" r="0.5"/>
<circle cx="799" cy="896" r="0.5"/>
<circle cx="740" cy="1101" r="0.5"/>
<circle cx="703" cy="1021" r="0.5"/>
<circle cx="711" cy="1016" r="0.5"/>
<path d="M692 1031 Q697 1026 702 1027" stroke-width="1.2"/>
<polygon points="772,1026 780,1019 785,1020 779,1027" fill="#D9D9D9" stroke-width="0.8"/>
<path d="M916 566 l4 -2 l3 3 l-2 4 l3 2 l-4 3 l-3 -2 l1 -4 z" stroke-width="1.5" fill="#FFF8C1"/>
<path d="M919 560 l5 -1 M924 556 l4 1 M921 575 l4 2" stroke-width="1"/>
<circle cx="872" cy="696" r="0.5"/>
<circle cx="873" cy="703" r="0.5"/>
<circle cx="948" cy="652" r="0.5"/>
<circle cx="964" cy="649" r="0.5"/>
<circle cx="919" cy="660" r="0.5"/>
<circle cx="909" cy="719" r="0.5"/>
<circle cx="910" cy="731" r="0.5"/>
<circle cx="808" cy="751" r="0.5"/>
<circle cx="824" cy="758" r="0.5"/>
<circle cx="913" cy="391" r="0.5"/>
<circle cx="918" cy="388" r="0.5"/>
<circle cx="933" cy="378" r="0.5"/>
<circle cx="937" cy="383" r="0.5"/>
</g>
<g stroke="none"><polygon points="901.7,533.3 905.4,530.4 910.0,534.2 914.2,536.7 917.5,538.3 915.8,540.0 911.7,539.2 906.7,536.7" fill="#C14702"/></g>
<g fill="none" stroke="#fff" stroke-width="1.2"><polyline points="905.0,529.8 910.0,533.3 914.2,535.8 918.3,537.1"/><polyline points="903.3,540.0 906.7,537.7 911.7,540.0 916.7,541.0 920.0,540.0"/></g>
<g fill="none" stroke="#5a5a5a" stroke-width="0.9"><polygon points="901.7,533.3 905.4,530.4 910.0,534.2 914.2,536.7 917.5,538.3 915.8,540.0 911.7,539.2 906.7,536.7"/></g>
<g stroke="none"><polygon points="771,719 776,717.5 781,719.5 779,727 773,729 770,724" fill="#fff"/></g>
<g fill="none" stroke="#5a5a5a" stroke-width="1"><polyline points="770,724 771,719 776,717.5 781,719.5 779,727"/><path d="M773 722 l3 1 l-1 3 M777 723 l2 -1"/></g>
</g></svg>
<div id="frame"></div>
<div id="title" class="t"><span class="cj">父系：</span> <span class="la">O-F3386 (</span><span class="cj">含下游</span><span class="la">)</span></div>
<div id="lt" class="t cj">相对占比</div>
<div class="sw" style="top:805.30px;background:#FFFFE5"></div>
<div class="t lb" style="top:810.20px">0.028% - 0.185%</div>
<div class="sw" style="top:838.82px;background:#FFF8C1"></div>
<div class="t lb" style="top:843.72px">0.185% - 0.286%</div>
<div class="sw" style="top:872.34px;background:#FEE79B"></div>
<div class="t lb" style="top:877.24px">0.286% - 0.385%</div>
<div class="sw" style="top:905.86px;background:#FECE65"></div>
<div class="t lb" style="top:910.76px">0.385% - 0.512%</div>
<div class="sw" style="top:939.38px;background:#FEAC3A"></div>
<div class="t lb" style="top:944.28px">0.512% - 0.704%</div>
<div class="sw" style="top:972.90px;background:#F68720"></div>
<div class="t lb" style="top:977.80px">0.704% - 0.893%</div>
<div class="sw" style="top:1006.42px;background:#E1640E"></div>
<div class="t lb" style="top:1011.32px">0.893% - 1.143%</div>
<div class="sw" style="top:1039.94px;background:#C14702"></div>
<div class="t lb" style="top:1044.84px">1.143% - 1.435%</div>
<div class="sw" style="top:1073.46px;background:#933204"></div>
<div class="t lb" style="top:1078.36px">1.435% - 1.713%</div>
<div class="sw" style="top:1106.98px;background:#662506"></div>
<div class="t lb" style="top:1111.88px">1.713% - 2.226%</div>
<div id="au" class="t"><span class="cj">作者</span>:O1a<span class="cj">溯源群</span></div>
</div></body></html>
